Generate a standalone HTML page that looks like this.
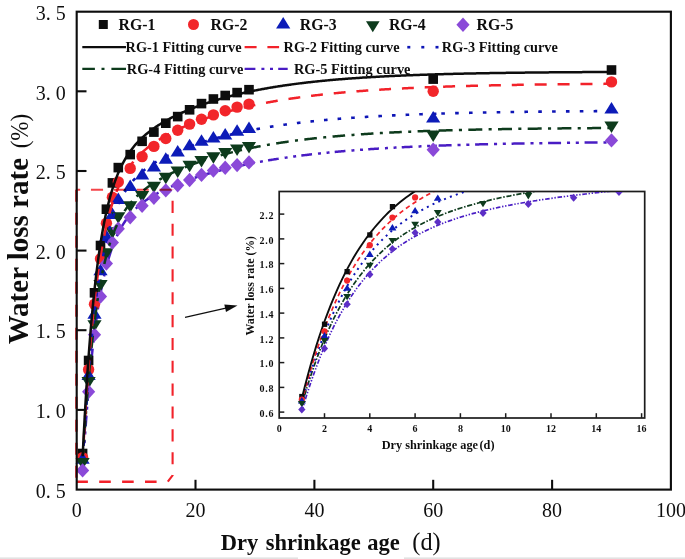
<!DOCTYPE html>
<html><head><meta charset="utf-8"><title>chart</title>
<style>
html,body{margin:0;padding:0;background:#fff;}
body{width:685px;height:559px;overflow:hidden;position:relative;font-family:"Liberation Serif",serif;}
svg{position:absolute;left:0;top:0;display:block}
text{font-family:"Liberation Serif",serif;fill:#111}
.b{font-weight:bold}
</style></head><body>
<svg width="685" height="559" viewBox="0 0 685 559">
<defs>
<clipPath id="ci"><rect x="280" y="192" width="364" height="225.5"/></clipPath>
<filter id="bl" x="-2%" y="-2%" width="104%" height="104%"><feGaussianBlur stdDeviation="0.5"/></filter>
</defs>
<g filter="url(#bl)">
<rect x="-5" y="-5" width="695" height="569" fill="#fff"/>

<rect x="-5" y="557.4" width="303" height="3" fill="#e2e2e2"/><rect x="404" y="557.4" width="290" height="3" fill="#e2e2e2"/>
<path d="M83.36,460.60 L84.30,445.92 L85.24,432.11 L86.18,419.12 L87.12,406.90 L88.07,395.40 L89.01,384.58 L89.95,374.39 L90.89,364.80 L91.84,355.77 L92.78,347.25 L93.72,339.23 L94.66,331.67 L95.61,324.55 L96.55,317.83 L97.49,311.49 L98.43,305.50 L99.38,299.85 L100.32,294.52 L101.26,289.48 L102.20,284.72 L103.15,280.22 L104.09,275.96 L105.03,271.94 L105.97,268.12 L106.92,264.51 L107.86,261.09 L108.80,257.85 L109.74,254.78 L110.69,251.86 L111.63,249.09 L112.57,246.46 L113.51,243.96 L114.46,241.58 L115.40,239.32 L116.34,237.16 L117.28,235.11 L118.23,233.15 L119.17,231.29 L120.11,229.50 L121.05,227.80 L122.00,226.17 L122.94,224.61 L123.88,223.12 L124.82,221.69 L125.77,220.32 L126.71,219.01 L127.65,217.74 L128.59,216.53 L129.54,215.36 L130.48,214.24 L131.42,213.16 L132.36,212.11 L133.31,211.11 L134.25,210.13 L135.19,209.19 L136.13,208.28 L137.08,207.40 L138.02,206.55 L138.96,205.73 L139.90,204.93 L140.85,204.15 L141.79,203.39 L142.73,202.66 L143.67,201.94 L144.62,201.25 L145.56,200.57 L146.50,199.91 L147.44,199.26 L148.39,198.63 L149.33,198.02 L150.27,197.41 L151.21,196.83 L152.16,196.25 L153.10,195.69 L154.04,195.14 L154.98,194.59 L155.93,194.06 L156.87,193.54 L157.81,193.03 L158.75,192.53 L159.70,192.04 L160.64,191.55 L161.58,191.08 L162.52,190.61 L163.47,190.15 L164.41,189.69 L165.35,189.24 L166.29,188.80 L167.24,188.37 L168.18,187.94 L169.12,187.52 L170.06,187.10 L171.01,186.69 L171.95,186.29 L172.89,185.88 L173.83,185.49 L174.78,185.10 L175.72,184.71 L176.66,184.33 L177.60,183.96 L178.55,183.59 L179.49,183.22 L180.43,182.85 L181.37,182.49 L182.32,182.14 L183.26,181.79 L184.20,181.44 L185.14,181.10 L186.09,180.76 L187.03,180.42 L187.97,180.08 L188.91,179.75 L189.86,179.43 L190.80,179.10 L191.74,178.78 L192.68,178.47 L193.63,178.15 L194.57,177.84 L195.51,177.53 L196.45,177.23 L197.40,176.93 L198.34,176.63 L199.28,176.33 L200.22,176.04 L201.17,175.75 L202.11,175.46 L203.05,175.17 L203.99,174.89 L204.94,174.61 L205.88,174.33 L206.82,174.05 L207.76,173.78 L208.70,173.51 L209.65,173.24 L210.59,172.97 L211.53,172.71 L212.47,172.45 L213.42,172.19 L214.36,171.93 L215.30,171.68 L216.24,171.43 L217.19,171.18 L218.13,170.93 L219.07,170.68 L220.01,170.44 L220.96,170.20 L221.90,169.96 L222.84,169.72 L223.78,169.48 L224.73,169.25 L225.67,169.02 L226.61,168.79 L227.55,168.56 L228.50,168.34 L229.44,168.11 L230.38,167.89 L231.32,167.67 L232.27,167.45 L233.21,167.24 L234.15,167.02 L235.09,166.81 L236.04,166.60 L236.98,166.39 L237.92,166.18 L238.86,165.98 L239.81,165.77 L240.75,165.57 L241.69,165.37 L242.63,165.17 L243.58,164.97 L244.52,164.78 L245.46,164.58 L246.40,164.39 L247.35,164.20 L248.29,164.01 L249.23,163.83 L250.17,163.64 L251.12,163.46 L252.06,163.27 L253.00,163.09 L253.94,162.91 L254.89,162.73 L255.83,162.56 L256.77,162.38 L257.71,162.21 L258.66,162.04 L259.60,161.86 L260.54,161.70 L261.48,161.53 L262.43,161.36 L263.37,161.20 L264.31,161.03 L265.25,160.87 L266.20,160.71 L267.14,160.55 L268.08,160.39 L269.02,160.23 L269.97,160.08 L270.91,159.92 L271.85,159.77 L272.79,159.62 L273.74,159.47 L274.68,159.32 L275.62,159.17 L276.56,159.02 L277.51,158.87 L278.45,158.73 L279.39,158.59 L280.33,158.44 L281.28,158.30 L282.22,158.16 L283.16,158.02 L284.10,157.89 L285.05,157.75 L285.99,157.62 L286.93,157.48 L287.87,157.35 L288.82,157.22 L289.76,157.09 L290.70,156.96 L291.64,156.83 L292.59,156.70 L293.53,156.57 L294.47,156.45 L295.41,156.32 L296.36,156.20 L297.30,156.08 L298.24,155.96 L299.18,155.84 L300.13,155.72 L301.07,155.60 L302.01,155.48 L302.95,155.36 L303.90,155.25 L304.84,155.13 L305.78,155.02 L306.72,154.91 L307.67,154.80 L308.61,154.69 L309.55,154.58 L310.49,154.47 L311.44,154.36 L312.38,154.25 L313.32,154.15 L314.26,154.04 L315.21,153.94 L316.15,153.83 L317.09,153.73 L318.03,153.63 L318.98,153.53 L319.92,153.43 L320.86,153.33 L321.80,153.23 L322.75,153.13 L323.69,153.03 L324.63,152.94 L325.57,152.84 L326.51,152.75 L327.46,152.66 L328.40,152.56 L329.34,152.47 L330.28,152.38 L331.23,152.29 L332.17,152.20 L333.11,152.11 L334.05,152.02 L335.00,151.93 L335.94,151.85 L336.88,151.76 L337.82,151.67 L338.77,151.59 L339.71,151.51 L340.65,151.42 L341.59,151.34 L342.54,151.26 L343.48,151.18 L344.42,151.10 L345.36,151.02 L346.31,150.94 L347.25,150.86 L348.19,150.78 L349.13,150.70 L350.08,150.63 L351.02,150.55 L351.96,150.47 L352.90,150.40 L353.85,150.33 L354.79,150.25 L355.73,150.18 L356.67,150.11 L357.62,150.03 L358.56,149.96 L359.50,149.89 L360.44,149.82 L361.39,149.75 L362.33,149.68 L363.27,149.62 L364.21,149.55 L365.16,149.48 L366.10,149.42 L367.04,149.35 L367.98,149.28 L368.93,149.22 L369.87,149.15 L370.81,149.09 L371.75,149.03 L372.70,148.96 L373.64,148.90 L374.58,148.84 L375.52,148.78 L376.47,148.72 L377.41,148.66 L378.35,148.60 L379.29,148.54 L380.24,148.48 L381.18,148.42 L382.12,148.36 L383.06,148.31 L384.01,148.25 L384.95,148.19 L385.89,148.14 L386.83,148.08 L387.78,148.03 L388.72,147.97 L389.66,147.92 L390.60,147.87 L391.55,147.81 L392.49,147.76 L393.43,147.71 L394.37,147.66 L395.32,147.60 L396.26,147.55 L397.20,147.50 L398.14,147.45 L399.09,147.40 L400.03,147.35 L400.97,147.31 L401.91,147.26 L402.86,147.21 L403.80,147.16 L404.74,147.11 L405.68,147.07 L406.63,147.02 L407.57,146.97 L408.51,146.93 L409.45,146.88 L410.40,146.84 L411.34,146.79 L412.28,146.75 L413.22,146.71 L414.17,146.66 L415.11,146.62 L416.05,146.58 L416.99,146.53 L417.94,146.49 L418.88,146.45 L419.82,146.41 L420.76,146.37 L421.71,146.33 L422.65,146.29 L423.59,146.25 L424.53,146.21 L425.48,146.17 L426.42,146.13 L427.36,146.09 L428.30,146.05 L429.25,146.01 L430.19,145.98 L431.13,145.94 L432.07,145.90 L433.02,145.86 L433.96,145.83 L434.90,145.79 L435.84,145.76 L436.79,145.72" fill="none" stroke="#4a1fc4" stroke-width="2.5" stroke-dasharray="10.80 6.00 3.00 5.60 3.00 5.20" stroke-dashoffset="32.84"/>
<path d="M436.79,145.72 L437.68,145.69 L438.58,145.65 L439.47,145.62 L440.37,145.59 L441.26,145.55 L442.16,145.52 L443.06,145.49 L443.95,145.46 L444.85,145.43 L445.74,145.40 L446.64,145.36 L447.54,145.33 L448.43,145.30 L449.33,145.27 L450.22,145.24 L451.12,145.21 L452.02,145.18 L452.91,145.15 L453.81,145.13 L454.70,145.10 L455.60,145.07 L456.49,145.04 L457.39,145.01 L458.29,144.98 L459.18,144.96 L460.08,144.93 L460.97,144.90 L461.87,144.87 L462.77,144.85 L463.66,144.82 L464.56,144.79 L465.45,144.77 L466.35,144.74 L467.24,144.72 L468.14,144.69 L469.04,144.66 L469.93,144.64 L470.83,144.61 L471.72,144.59 L472.62,144.56 L473.52,144.54 L474.41,144.52 L475.31,144.49 L476.20,144.47 L477.10,144.44 L478.00,144.42 L478.89,144.40 L479.79,144.37 L480.68,144.35 L481.58,144.33 L482.47,144.31 L483.37,144.28 L484.27,144.26 L485.16,144.24 L486.06,144.22 L486.95,144.20 L487.85,144.17 L488.75,144.15 L489.64,144.13 L490.54,144.11 L491.43,144.09 L492.33,144.07 L493.23,144.05 L494.12,144.03 L495.02,144.01 L495.91,143.99 L496.81,143.97 L497.70,143.95 L498.60,143.93 L499.50,143.91 L500.39,143.89 L501.29,143.87 L502.18,143.85 L503.08,143.83 L503.98,143.81 L504.87,143.80 L505.77,143.78 L506.66,143.76 L507.56,143.74 L508.45,143.72 L509.35,143.71 L510.25,143.69 L511.14,143.67 L512.04,143.65 L512.93,143.64 L513.83,143.62 L514.73,143.60 L515.62,143.58 L516.52,143.57 L517.41,143.55 L518.31,143.53 L519.21,143.52 L520.10,143.50 L521.00,143.49 L521.89,143.47 L522.79,143.45 L523.68,143.44 L524.58,143.42 L525.48,143.41 L526.37,143.39 L527.27,143.38 L528.16,143.36 L529.06,143.35 L529.96,143.33 L530.85,143.32 L531.75,143.30 L532.64,143.29 L533.54,143.27 L534.44,143.26 L535.33,143.25 L536.23,143.23 L537.12,143.22 L538.02,143.20 L538.91,143.19 L539.81,143.18 L540.71,143.16 L541.60,143.15 L542.50,143.14 L543.39,143.12 L544.29,143.11 L545.19,143.10 L546.08,143.08 L546.98,143.07 L547.87,143.06 L548.77,143.05 L549.66,143.03 L550.56,143.02 L551.46,143.01 L552.35,143.00 L553.25,142.99 L554.14,142.97 L555.04,142.96 L555.94,142.95 L556.83,142.94 L557.73,142.93 L558.62,142.91 L559.52,142.90 L560.42,142.89 L561.31,142.88 L562.21,142.87 L563.10,142.86 L564.00,142.85 L564.89,142.84 L565.79,142.83 L566.69,142.81 L567.58,142.80 L568.48,142.79 L569.37,142.78 L570.27,142.77 L571.17,142.76 L572.06,142.75 L572.96,142.74 L573.85,142.73 L574.75,142.72 L575.65,142.71 L576.54,142.70 L577.44,142.69 L578.33,142.68 L579.23,142.67 L580.12,142.66 L581.02,142.65 L581.92,142.65 L582.81,142.64 L583.71,142.63 L584.60,142.62 L585.50,142.61 L586.40,142.60 L587.29,142.59 L588.19,142.58 L589.08,142.57 L589.98,142.56 L590.87,142.56 L591.77,142.55 L592.67,142.54 L593.56,142.53 L594.46,142.52 L595.35,142.51 L596.25,142.50 L597.15,142.50 L598.04,142.49 L598.94,142.48 L599.83,142.47 L600.73,142.46 L601.63,142.46 L602.52,142.45 L603.42,142.44 L604.31,142.43 L605.21,142.43 L606.10,142.42 L607.00,142.41 L607.90,142.40 L608.79,142.40 L609.69,142.39 L610.58,142.38 L611.48,142.37" fill="none" stroke="#4a1fc4" stroke-width="2.5" stroke-dasharray="13.00 5.90 3.10 5.70 3.10 5.70" stroke-dashoffset="34.68"/>
<rect x="77.8" y="448.7" width="9.6" height="9.6" fill="#0d0d0d"/>
<rect x="83.8" y="355.7" width="9.6" height="9.6" fill="#0d0d0d"/>
<rect x="89.7" y="288.0" width="9.6" height="9.6" fill="#0d0d0d"/>
<rect x="95.7" y="240.7" width="9.6" height="9.6" fill="#0d0d0d"/>
<rect x="101.6" y="204.4" width="9.6" height="9.6" fill="#0d0d0d"/>
<rect x="107.6" y="178.1" width="9.6" height="9.6" fill="#0d0d0d"/>
<rect x="113.5" y="162.8" width="9.6" height="9.6" fill="#0d0d0d"/>
<rect x="125.4" y="149.8" width="9.6" height="9.6" fill="#0d0d0d"/>
<rect x="137.3" y="136.5" width="9.6" height="9.6" fill="#0d0d0d"/>
<rect x="149.1" y="127.3" width="9.6" height="9.6" fill="#0d0d0d"/>
<rect x="161.0" y="118.4" width="9.6" height="9.6" fill="#0d0d0d"/>
<rect x="172.9" y="111.8" width="9.6" height="9.6" fill="#0d0d0d"/>
<rect x="184.8" y="105.0" width="9.6" height="9.6" fill="#0d0d0d"/>
<rect x="196.7" y="98.8" width="9.6" height="9.6" fill="#0d0d0d"/>
<rect x="208.6" y="94.2" width="9.6" height="9.6" fill="#0d0d0d"/>
<rect x="220.4" y="90.7" width="9.6" height="9.6" fill="#0d0d0d"/>
<rect x="232.3" y="87.8" width="9.6" height="9.6" fill="#0d0d0d"/>
<rect x="244.2" y="84.9" width="9.6" height="9.6" fill="#0d0d0d"/>
<rect x="428.4" y="74.3" width="9.6" height="9.6" fill="#0d0d0d"/>
<rect x="606.7" y="65.2" width="9.6" height="9.6" fill="#0d0d0d"/>
<circle cx="82.6" cy="457.6" r="5.7" fill="#f2272c"/>
<circle cx="88.6" cy="369.6" r="5.7" fill="#f2272c"/>
<circle cx="94.5" cy="304.3" r="5.7" fill="#f2272c"/>
<circle cx="100.5" cy="258.7" r="5.7" fill="#f2272c"/>
<circle cx="106.4" cy="223.2" r="5.7" fill="#f2272c"/>
<circle cx="112.4" cy="197.2" r="5.7" fill="#f2272c"/>
<circle cx="118.3" cy="181.9" r="5.7" fill="#f2272c"/>
<circle cx="130.2" cy="168.4" r="5.7" fill="#f2272c"/>
<circle cx="142.1" cy="156.6" r="5.7" fill="#f2272c"/>
<circle cx="153.9" cy="146.4" r="5.7" fill="#f2272c"/>
<circle cx="165.8" cy="138.5" r="5.7" fill="#f2272c"/>
<circle cx="177.7" cy="130.3" r="5.7" fill="#f2272c"/>
<circle cx="189.6" cy="124.1" r="5.7" fill="#f2272c"/>
<circle cx="201.5" cy="119.2" r="5.7" fill="#f2272c"/>
<circle cx="213.4" cy="114.9" r="5.7" fill="#f2272c"/>
<circle cx="225.2" cy="110.8" r="5.7" fill="#f2272c"/>
<circle cx="237.1" cy="107.1" r="5.7" fill="#f2272c"/>
<circle cx="249.0" cy="104.1" r="5.7" fill="#f2272c"/>
<circle cx="433.2" cy="91.3" r="5.7" fill="#f2272c"/>
<circle cx="611.5" cy="81.9" r="5.7" fill="#f2272c"/>
<path d="M82.6,452.2 L89.7,463.7 L75.5,463.7 Z" fill="#0b1cb8"/>
<path d="M88.6,368.6 L95.7,380.1 L81.5,380.1 Z" fill="#0b1cb8"/>
<path d="M94.5,307.3 L101.6,318.8 L87.4,318.8 Z" fill="#0b1cb8"/>
<path d="M100.5,263.7 L107.6,275.2 L93.4,275.2 Z" fill="#0b1cb8"/>
<path d="M106.4,229.6 L113.5,241.1 L99.3,241.1 Z" fill="#0b1cb8"/>
<path d="M112.4,207.4 L119.5,218.9 L105.3,218.9 Z" fill="#0b1cb8"/>
<path d="M118.3,192.5 L125.4,204.0 L111.2,204.0 Z" fill="#0b1cb8"/>
<path d="M130.2,179.6 L137.3,191.1 L123.1,191.1 Z" fill="#0b1cb8"/>
<path d="M142.1,167.9 L149.2,179.4 L135.0,179.4 Z" fill="#0b1cb8"/>
<path d="M153.9,160.0 L161.0,171.5 L146.8,171.5 Z" fill="#0b1cb8"/>
<path d="M165.8,152.3 L172.9,163.8 L158.7,163.8 Z" fill="#0b1cb8"/>
<path d="M177.7,145.0 L184.8,156.5 L170.6,156.5 Z" fill="#0b1cb8"/>
<path d="M189.6,138.8 L196.7,150.3 L182.5,150.3 Z" fill="#0b1cb8"/>
<path d="M201.5,134.3 L208.6,145.8 L194.4,145.8 Z" fill="#0b1cb8"/>
<path d="M213.4,131.0 L220.5,142.5 L206.3,142.5 Z" fill="#0b1cb8"/>
<path d="M225.2,128.1 L232.3,139.6 L218.2,139.6 Z" fill="#0b1cb8"/>
<path d="M237.1,124.3 L244.2,135.8 L230.0,135.8 Z" fill="#0b1cb8"/>
<path d="M249.0,121.6 L256.1,133.1 L241.9,133.1 Z" fill="#0b1cb8"/>
<path d="M433.2,111.1 L440.3,122.6 L426.1,122.6 Z" fill="#0b1cb8"/>
<path d="M611.5,102.0 L618.6,113.5 L604.4,113.5 Z" fill="#0b1cb8"/>
<path d="M75.5,457.9 L89.7,457.9 L82.6,469.4 Z" fill="#0d3a1d"/>
<path d="M81.5,377.0 L95.7,377.0 L88.6,388.5 Z" fill="#0d3a1d"/>
<path d="M87.4,320.2 L101.6,320.2 L94.5,331.7 Z" fill="#0d3a1d"/>
<path d="M93.4,280.0 L107.6,280.0 L100.5,291.5 Z" fill="#0d3a1d"/>
<path d="M99.3,248.2 L113.5,248.2 L106.4,259.7 Z" fill="#0d3a1d"/>
<path d="M105.3,227.3 L119.5,227.3 L112.4,238.8 Z" fill="#0d3a1d"/>
<path d="M111.2,212.3 L125.4,212.3 L118.3,223.8 Z" fill="#0d3a1d"/>
<path d="M123.1,201.3 L137.3,201.3 L130.2,212.8 Z" fill="#0d3a1d"/>
<path d="M135.0,191.1 L149.2,191.1 L142.1,202.6 Z" fill="#0d3a1d"/>
<path d="M146.8,181.7 L161.0,181.7 L153.9,193.2 Z" fill="#0d3a1d"/>
<path d="M158.7,172.8 L172.9,172.8 L165.8,184.3 Z" fill="#0d3a1d"/>
<path d="M170.6,166.6 L184.8,166.6 L177.7,178.1 Z" fill="#0d3a1d"/>
<path d="M182.5,160.7 L196.7,160.7 L189.6,172.2 Z" fill="#0d3a1d"/>
<path d="M194.4,156.1 L208.6,156.1 L201.5,167.6 Z" fill="#0d3a1d"/>
<path d="M206.3,152.3 L220.5,152.3 L213.4,163.8 Z" fill="#0d3a1d"/>
<path d="M218.2,148.1 L232.3,148.1 L225.2,159.6 Z" fill="#0d3a1d"/>
<path d="M230.0,144.6 L244.2,144.6 L237.1,156.1 Z" fill="#0d3a1d"/>
<path d="M241.9,141.9 L256.1,141.9 L249.0,153.4 Z" fill="#0d3a1d"/>
<path d="M426.1,130.5 L440.3,130.5 L433.2,142.0 Z" fill="#0d3a1d"/>
<path d="M604.4,121.5 L618.6,121.5 L611.5,133.0 Z" fill="#0d3a1d"/>
<path d="M82.6,463.2 L89.2,470.4 L82.6,477.6 L76.0,470.4 Z" fill="#8a4ad8"/>
<path d="M88.6,384.5 L95.2,391.7 L88.6,398.9 L82.0,391.7 Z" fill="#8a4ad8"/>
<path d="M94.5,327.6 L101.1,334.8 L94.5,342.0 L87.9,334.8 Z" fill="#8a4ad8"/>
<path d="M100.5,289.3 L107.1,296.5 L100.5,303.7 L93.9,296.5 Z" fill="#8a4ad8"/>
<path d="M106.4,256.3 L113.0,263.5 L106.4,270.7 L99.8,263.5 Z" fill="#8a4ad8"/>
<path d="M112.4,235.4 L119.0,242.6 L112.4,249.8 L105.8,242.6 Z" fill="#8a4ad8"/>
<path d="M118.3,221.6 L124.9,228.8 L118.3,236.0 L111.7,228.8 Z" fill="#8a4ad8"/>
<path d="M130.2,210.1 L136.8,217.3 L130.2,224.5 L123.6,217.3 Z" fill="#8a4ad8"/>
<path d="M142.1,198.5 L148.7,205.7 L142.1,212.9 L135.5,205.7 Z" fill="#8a4ad8"/>
<path d="M153.9,190.5 L160.5,197.7 L153.9,204.9 L147.3,197.7 Z" fill="#8a4ad8"/>
<path d="M165.8,183.2 L172.4,190.4 L165.8,197.6 L159.2,190.4 Z" fill="#8a4ad8"/>
<path d="M177.7,178.1 L184.3,185.3 L177.7,192.5 L171.1,185.3 Z" fill="#8a4ad8"/>
<path d="M189.6,172.8 L196.2,180.0 L189.6,187.2 L183.0,180.0 Z" fill="#8a4ad8"/>
<path d="M201.5,167.7 L208.1,174.9 L201.5,182.1 L194.9,174.9 Z" fill="#8a4ad8"/>
<path d="M213.4,163.3 L220.0,170.5 L213.4,177.7 L206.8,170.5 Z" fill="#8a4ad8"/>
<path d="M225.2,160.6 L231.8,167.8 L225.2,175.0 L218.7,167.8 Z" fill="#8a4ad8"/>
<path d="M237.1,157.9 L243.7,165.1 L237.1,172.3 L230.5,165.1 Z" fill="#8a4ad8"/>
<path d="M249.0,155.2 L255.6,162.4 L249.0,169.6 L242.4,162.4 Z" fill="#8a4ad8"/>
<path d="M433.2,142.6 L439.8,149.8 L433.2,157.0 L426.6,149.8 Z" fill="#8a4ad8"/>
<path d="M611.5,133.2 L618.1,140.4 L611.5,147.6 L604.9,140.4 Z" fill="#8a4ad8"/>
<path d="M83.24,454.27 L84.18,439.04 L85.12,424.75 L86.06,411.34 L87.00,398.75 L87.94,386.92 L88.88,375.81 L89.82,365.38 L90.76,355.57 L91.70,346.35 L92.64,337.68 L93.58,329.52 L94.52,321.85 L95.46,314.62 L96.40,307.82 L97.34,301.41 L98.28,295.37 L99.22,289.67 L100.16,284.30 L101.10,279.23 L102.04,274.44 L102.98,269.92 L103.92,265.65 L104.86,261.60 L105.80,257.78 L106.74,254.16 L107.68,250.73 L108.62,247.48 L109.56,244.40 L110.50,241.47 L111.44,238.70 L112.39,236.06 L113.33,233.54 L114.27,231.15 L115.21,228.88 L116.15,226.71 L117.09,224.64 L118.03,222.67 L118.97,220.78 L119.91,218.98 L120.85,217.25 L121.79,215.60 L122.73,214.01 L123.67,212.49 L124.61,211.04 L125.55,209.63 L126.49,208.29 L127.43,206.99 L128.37,205.74 L129.31,204.53 L130.25,203.37 L131.19,202.25 L132.13,201.16 L133.07,200.11 L134.01,199.10 L134.95,198.11 L135.89,197.16 L136.83,196.23 L137.77,195.33 L138.71,194.46 L139.65,193.61 L140.59,192.78 L141.53,191.97 L142.47,191.18 L143.41,190.42 L144.36,189.67 L145.30,188.94 L146.24,188.22 L147.18,187.53 L148.12,186.84 L149.06,186.17 L150.00,185.52 L150.94,184.88 L151.88,184.25 L152.82,183.63 L153.76,183.02 L154.70,182.43 L155.64,181.84 L156.58,181.27 L157.52,180.71 L158.46,180.15 L159.40,179.60 L160.34,179.07 L161.28,178.54 L162.22,178.02 L163.16,177.50 L164.10,177.00 L165.04,176.50 L165.98,176.01 L166.92,175.52 L167.86,175.04 L168.80,174.57 L169.74,174.11 L170.68,173.65 L171.62,173.19 L172.56,172.74 L173.50,172.30 L174.44,171.87 L175.38,171.43 L176.32,171.01 L177.27,170.59 L178.21,170.17 L179.15,169.76 L180.09,169.35 L181.03,168.95 L181.97,168.55 L182.91,168.16 L183.85,167.77 L184.79,167.38 L185.73,167.00 L186.67,166.62 L187.61,166.25 L188.55,165.88 L189.49,165.52 L190.43,165.16 L191.37,164.80 L192.31,164.45 L193.25,164.10 L194.19,163.75 L195.13,163.41 L196.07,163.07 L197.01,162.73 L197.95,162.40 L198.89,162.07 L199.83,161.74 L200.77,161.42 L201.71,161.10 L202.65,160.78 L203.59,160.47 L204.53,160.16 L205.47,159.85 L206.41,159.55 L207.35,159.25 L208.29,158.95 L209.24,158.65 L210.18,158.36 L211.12,158.07 L212.06,157.79 L213.00,157.50 L213.94,157.22 L214.88,156.94 L215.82,156.66 L216.76,156.39 L217.70,156.12 L218.64,155.85 L219.58,155.59 L220.52,155.32 L221.46,155.06 L222.40,154.80 L223.34,154.55 L224.28,154.29 L225.22,154.04 L226.16,153.79 L227.10,153.55 L228.04,153.30 L228.98,153.06 L229.92,152.82 L230.86,152.59 L231.80,152.35 L232.74,152.12 L233.68,151.89 L234.62,151.66 L235.56,151.43 L236.50,151.21 L237.44,150.99 L238.38,150.77 L239.32,150.55 L240.26,150.33 L241.20,150.12 L242.15,149.91 L243.09,149.70 L244.03,149.49 L244.97,149.29 L245.91,149.08 L246.85,148.88 L247.79,148.68 L248.73,148.48 L249.67,148.29 L250.61,148.09 L251.55,147.90 L252.49,147.71 L253.43,147.52 L254.37,147.33 L255.31,147.15 L256.25,146.96 L257.19,146.78 L258.13,146.60 L259.07,146.42 L260.01,146.24 L260.95,146.07 L261.89,145.89 L262.83,145.72 L263.77,145.55 L264.71,145.38 L265.65,145.21 L266.59,145.05 L267.53,144.88 L268.47,144.72 L269.41,144.56 L270.35,144.40 L271.29,144.24 L272.23,144.09 L273.17,143.93 L274.12,143.78 L275.06,143.62 L276.00,143.47 L276.94,143.32 L277.88,143.18 L278.82,143.03 L279.76,142.88 L280.70,142.74 L281.64,142.60 L282.58,142.46 L283.52,142.32 L284.46,142.18 L285.40,142.04 L286.34,141.90 L287.28,141.77 L288.22,141.63 L289.16,141.50 L290.10,141.37 L291.04,141.24 L291.98,141.11 L292.92,140.98 L293.86,140.86 L294.80,140.73 L295.74,140.61 L296.68,140.49 L297.62,140.36 L298.56,140.24 L299.50,140.12 L300.44,140.01 L301.38,139.89 L302.32,139.77 L303.26,139.66 L304.20,139.54 L305.14,139.43 L306.08,139.32 L307.03,139.21 L307.97,139.10 L308.91,138.99 L309.85,138.88 L310.79,138.78 L311.73,138.67 L312.67,138.56 L313.61,138.46 L314.55,138.36 L315.49,138.26 L316.43,138.16 L317.37,138.06 L318.31,137.96 L319.25,137.86 L320.19,137.76 L321.13,137.66 L322.07,137.57 L323.01,137.48 L323.95,137.38 L324.89,137.29 L325.83,137.20 L326.77,137.11 L327.71,137.02 L328.65,136.93 L329.59,136.84 L330.53,136.75 L331.47,136.66 L332.41,136.58 L333.35,136.49 L334.29,136.41 L335.23,136.32 L336.17,136.24 L337.11,136.16 L338.05,136.08 L339.00,136.00 L339.94,135.92 L340.88,135.84 L341.82,135.76 L342.76,135.68 L343.70,135.61 L344.64,135.53 L345.58,135.45 L346.52,135.38 L347.46,135.31 L348.40,135.23 L349.34,135.16 L350.28,135.09 L351.22,135.02 L352.16,134.95 L353.10,134.88 L354.04,134.81 L354.98,134.74 L355.92,134.67 L356.86,134.60 L357.80,134.54 L358.74,134.47 L359.68,134.40 L360.62,134.34 L361.56,134.27 L362.50,134.21 L363.44,134.15 L364.38,134.08 L365.32,134.02 L366.26,133.96 L367.20,133.90 L368.14,133.84 L369.08,133.78 L370.02,133.72 L370.96,133.66 L371.91,133.60 L372.85,133.55 L373.79,133.49 L374.73,133.43 L375.67,133.38 L376.61,133.32 L377.55,133.27 L378.49,133.21 L379.43,133.16 L380.37,133.11 L381.31,133.05 L382.25,133.00 L383.19,132.95 L384.13,132.90 L385.07,132.85 L386.01,132.80 L386.95,132.75 L387.89,132.70 L388.83,132.65 L389.77,132.60 L390.71,132.55 L391.65,132.50 L392.59,132.46 L393.53,132.41 L394.47,132.36 L395.41,132.32 L396.35,132.27 L397.29,132.23 L398.23,132.18 L399.17,132.14 L400.11,132.09 L401.05,132.05 L401.99,132.01 L402.93,131.97 L403.88,131.92 L404.82,131.88 L405.76,131.84 L406.70,131.80 L407.64,131.76 L408.58,131.72 L409.52,131.68 L410.46,131.64 L411.40,131.60 L412.34,131.56 L413.28,131.52 L414.22,131.48 L415.16,131.45 L416.10,131.41 L417.04,131.37 L417.98,131.34 L418.92,131.30 L419.86,131.26 L420.80,131.23 L421.74,131.19 L422.68,131.16 L423.62,131.12 L424.56,131.09 L425.50,131.05 L426.44,131.02 L427.38,130.99 L428.32,130.95 L429.26,130.92 L430.20,130.89 L431.14,130.86 L432.08,130.82 L433.02,130.79 L433.96,130.76 L434.90,130.73 L435.84,130.70 L436.79,130.67" fill="none" stroke="#0e3a1c" stroke-width="2.5" stroke-dasharray="12.60 6.40 3.00 6.40" stroke-dashoffset="7.13"/>
<path d="M436.79,130.67 L437.68,130.64 L438.58,130.61 L439.47,130.58 L440.37,130.56 L441.26,130.53 L442.16,130.50 L443.06,130.47 L443.95,130.45 L444.85,130.42 L445.74,130.39 L446.64,130.37 L447.54,130.34 L448.43,130.32 L449.33,130.29 L450.22,130.27 L451.12,130.24 L452.02,130.22 L452.91,130.19 L453.81,130.17 L454.70,130.14 L455.60,130.12 L456.49,130.09 L457.39,130.07 L458.29,130.05 L459.18,130.02 L460.08,130.00 L460.97,129.98 L461.87,129.96 L462.77,129.93 L463.66,129.91 L464.56,129.89 L465.45,129.87 L466.35,129.85 L467.24,129.82 L468.14,129.80 L469.04,129.78 L469.93,129.76 L470.83,129.74 L471.72,129.72 L472.62,129.70 L473.52,129.68 L474.41,129.66 L475.31,129.64 L476.20,129.62 L477.10,129.60 L478.00,129.58 L478.89,129.56 L479.79,129.54 L480.68,129.53 L481.58,129.51 L482.47,129.49 L483.37,129.47 L484.27,129.45 L485.16,129.44 L486.06,129.42 L486.95,129.40 L487.85,129.38 L488.75,129.37 L489.64,129.35 L490.54,129.33 L491.43,129.31 L492.33,129.30 L493.23,129.28 L494.12,129.26 L495.02,129.25 L495.91,129.23 L496.81,129.22 L497.70,129.20 L498.60,129.19 L499.50,129.17 L500.39,129.15 L501.29,129.14 L502.18,129.12 L503.08,129.11 L503.98,129.09 L504.87,129.08 L505.77,129.07 L506.66,129.05 L507.56,129.04 L508.45,129.02 L509.35,129.01 L510.25,128.99 L511.14,128.98 L512.04,128.97 L512.93,128.95 L513.83,128.94 L514.73,128.93 L515.62,128.91 L516.52,128.90 L517.41,128.89 L518.31,128.87 L519.21,128.86 L520.10,128.85 L521.00,128.84 L521.89,128.82 L522.79,128.81 L523.68,128.80 L524.58,128.79 L525.48,128.78 L526.37,128.76 L527.27,128.75 L528.16,128.74 L529.06,128.73 L529.96,128.72 L530.85,128.71 L531.75,128.69 L532.64,128.68 L533.54,128.67 L534.44,128.66 L535.33,128.65 L536.23,128.64 L537.12,128.63 L538.02,128.62 L538.91,128.61 L539.81,128.60 L540.71,128.59 L541.60,128.58 L542.50,128.57 L543.39,128.56 L544.29,128.55 L545.19,128.54 L546.08,128.53 L546.98,128.52 L547.87,128.51 L548.77,128.50 L549.66,128.49 L550.56,128.48 L551.46,128.47 L552.35,128.46 L553.25,128.45 L554.14,128.44 L555.04,128.44 L555.94,128.43 L556.83,128.42 L557.73,128.41 L558.62,128.40 L559.52,128.39 L560.42,128.38 L561.31,128.38 L562.21,128.37 L563.10,128.36 L564.00,128.35 L564.89,128.34 L565.79,128.33 L566.69,128.33 L567.58,128.32 L568.48,128.31 L569.37,128.30 L570.27,128.30 L571.17,128.29 L572.06,128.28 L572.96,128.27 L573.85,128.27 L574.75,128.26 L575.65,128.25 L576.54,128.24 L577.44,128.24 L578.33,128.23 L579.23,128.22 L580.12,128.22 L581.02,128.21 L581.92,128.20 L582.81,128.20 L583.71,128.19 L584.60,128.18 L585.50,128.18 L586.40,128.17 L587.29,128.16 L588.19,128.16 L589.08,128.15 L589.98,128.14 L590.87,128.14 L591.77,128.13 L592.67,128.12 L593.56,128.12 L594.46,128.11 L595.35,128.11 L596.25,128.10 L597.15,128.10 L598.04,128.09 L598.94,128.08 L599.83,128.08 L600.73,128.07 L601.63,128.07 L602.52,128.06 L603.42,128.06 L604.31,128.05 L605.21,128.04 L606.10,128.04 L607.00,128.03 L607.90,128.03 L608.79,128.02 L609.69,128.02 L610.58,128.01 L611.48,128.01" fill="none" stroke="#0e3a1c" stroke-width="2.5" stroke-dasharray="14.00 6.30 3.10 6.30" stroke-dashoffset="27.88"/>
<path d="M83.24,451.20 L84.18,435.25 L85.12,420.25 L86.06,406.15 L87.00,392.88 L87.94,380.40 L88.88,368.66 L89.82,357.61 L90.76,347.20 L91.70,337.40 L92.64,328.17 L93.58,319.48 L94.52,311.28 L95.46,303.56 L96.40,296.28 L97.34,289.41 L98.28,282.92 L99.22,276.80 L100.16,271.03 L101.10,265.57 L102.04,260.41 L102.98,255.54 L103.92,250.93 L104.86,246.57 L105.80,242.44 L106.74,238.53 L107.68,234.83 L108.62,231.32 L109.56,227.99 L110.50,224.83 L111.44,221.84 L112.39,218.99 L113.33,216.28 L114.27,213.70 L115.21,211.25 L116.15,208.92 L117.09,206.70 L118.03,204.58 L118.97,202.55 L119.91,200.62 L120.85,198.78 L121.79,197.01 L122.73,195.33 L123.67,193.71 L124.61,192.16 L125.55,190.68 L126.49,189.25 L127.43,187.88 L128.37,186.57 L129.31,185.30 L130.25,184.08 L131.19,182.91 L132.13,181.78 L133.07,180.69 L134.01,179.63 L134.95,178.62 L135.89,177.63 L136.83,176.68 L137.77,175.75 L138.71,174.86 L139.65,173.99 L140.59,173.15 L141.53,172.33 L142.47,171.54 L143.41,170.76 L144.36,170.01 L145.30,169.27 L146.24,168.56 L147.18,167.86 L148.12,167.18 L149.06,166.52 L150.00,165.87 L150.94,165.23 L151.88,164.61 L152.82,164.00 L153.76,163.41 L154.70,162.82 L155.64,162.25 L156.58,161.69 L157.52,161.14 L158.46,160.60 L159.40,160.07 L160.34,159.55 L161.28,159.04 L162.22,158.53 L163.16,158.04 L164.10,157.55 L165.04,157.07 L165.98,156.60 L166.92,156.14 L167.86,155.68 L168.80,155.23 L169.74,154.78 L170.68,154.34 L171.62,153.91 L172.56,153.48 L173.50,153.06 L174.44,152.65 L175.38,152.24 L176.32,151.83 L177.27,151.43 L178.21,151.04 L179.15,150.65 L180.09,150.26 L181.03,149.88 L181.97,149.51 L182.91,149.14 L183.85,148.77 L184.79,148.41 L185.73,148.05 L186.67,147.69 L187.61,147.34 L188.55,146.99 L189.49,146.65 L190.43,146.31 L191.37,145.98 L192.31,145.64 L193.25,145.31 L194.19,144.99 L195.13,144.67 L196.07,144.35 L197.01,144.03 L197.95,143.72 L198.89,143.41 L199.83,143.10 L200.77,142.80 L201.71,142.50 L202.65,142.20 L203.59,141.91 L204.53,141.62 L205.47,141.33 L206.41,141.05 L207.35,140.76 L208.29,140.48 L209.24,140.21 L210.18,139.93 L211.12,139.66 L212.06,139.39 L213.00,139.12 L213.94,138.86 L214.88,138.60 L215.82,138.34 L216.76,138.08 L217.70,137.83 L218.64,137.58 L219.58,137.33 L220.52,137.08 L221.46,136.84 L222.40,136.59 L223.34,136.35 L224.28,136.12 L225.22,135.88 L226.16,135.65 L227.10,135.42 L228.04,135.19 L228.98,134.96 L229.92,134.74 L230.86,134.51 L231.80,134.29 L232.74,134.07 L233.68,133.86 L234.62,133.64 L235.56,133.43 L236.50,133.22 L237.44,133.01 L238.38,132.80 L239.32,132.60 L240.26,132.40 L241.20,132.20 L242.15,132.00 L243.09,131.80 L244.03,131.60 L244.97,131.41 L245.91,131.22 L246.85,131.03 L247.79,130.84 L248.73,130.65 L249.67,130.47 L250.61,130.29 L251.55,130.10 L252.49,129.92 L253.43,129.75 L254.37,129.57 L255.31,129.39 L256.25,129.22 L257.19,129.05 L258.13,128.88 L259.07,128.71 L260.01,128.54 L260.95,128.38 L261.89,128.21 L262.83,128.05 L263.77,127.89 L264.71,127.73 L265.65,127.57 L266.59,127.42 L267.53,127.26 L268.47,127.11 L269.41,126.96 L270.35,126.80 L271.29,126.66 L272.23,126.51 L273.17,126.36 L274.12,126.22 L275.06,126.07 L276.00,125.93 L276.94,125.79 L277.88,125.65 L278.82,125.51 L279.76,125.37 L280.70,125.23 L281.64,125.10 L282.58,124.96 L283.52,124.83 L284.46,124.70 L285.40,124.57 L286.34,124.44 L287.28,124.31 L288.22,124.19 L289.16,124.06 L290.10,123.94 L291.04,123.81 L291.98,123.69 L292.92,123.57 L293.86,123.45 L294.80,123.33 L295.74,123.21 L296.68,123.10 L297.62,122.98 L298.56,122.87 L299.50,122.75 L300.44,122.64 L301.38,122.53 L302.32,122.42 L303.26,122.31 L304.20,122.20 L305.14,122.10 L306.08,121.99 L307.03,121.88 L307.97,121.78 L308.91,121.68 L309.85,121.57 L310.79,121.47 L311.73,121.37 L312.67,121.27 L313.61,121.17 L314.55,121.08 L315.49,120.98 L316.43,120.88 L317.37,120.79 L318.31,120.69 L319.25,120.60 L320.19,120.51 L321.13,120.42 L322.07,120.32 L323.01,120.23 L323.95,120.14 L324.89,120.06 L325.83,119.97 L326.77,119.88 L327.71,119.80 L328.65,119.71 L329.59,119.63 L330.53,119.54 L331.47,119.46 L332.41,119.38 L333.35,119.30 L334.29,119.22 L335.23,119.14 L336.17,119.06 L337.11,118.98 L338.05,118.90 L339.00,118.82 L339.94,118.75 L340.88,118.67 L341.82,118.60 L342.76,118.52 L343.70,118.45 L344.64,118.38 L345.58,118.30 L346.52,118.23 L347.46,118.16 L348.40,118.09 L349.34,118.02 L350.28,117.95 L351.22,117.88 L352.16,117.82 L353.10,117.75 L354.04,117.68 L354.98,117.62 L355.92,117.55 L356.86,117.49 L357.80,117.42 L358.74,117.36 L359.68,117.30 L360.62,117.23 L361.56,117.17 L362.50,117.11 L363.44,117.05 L364.38,116.99 L365.32,116.93 L366.26,116.87 L367.20,116.81 L368.14,116.76 L369.08,116.70 L370.02,116.64 L370.96,116.58 L371.91,116.53 L372.85,116.47 L373.79,116.42 L374.73,116.36 L375.67,116.31 L376.61,116.26 L377.55,116.20 L378.49,116.15 L379.43,116.10 L380.37,116.05 L381.31,116.00 L382.25,115.95 L383.19,115.90 L384.13,115.85 L385.07,115.80 L386.01,115.75 L386.95,115.70 L387.89,115.65 L388.83,115.61 L389.77,115.56 L390.71,115.51 L391.65,115.47 L392.59,115.42 L393.53,115.38 L394.47,115.33 L395.41,115.29 L396.35,115.24 L397.29,115.20 L398.23,115.16 L399.17,115.11 L400.11,115.07 L401.05,115.03 L401.99,114.99 L402.93,114.95 L403.88,114.91 L404.82,114.87 L405.76,114.83 L406.70,114.79 L407.64,114.75 L408.58,114.71 L409.52,114.67 L410.46,114.63 L411.40,114.59 L412.34,114.56 L413.28,114.52 L414.22,114.48 L415.16,114.45 L416.10,114.41 L417.04,114.37 L417.98,114.34 L418.92,114.30 L419.86,114.27 L420.80,114.23 L421.74,114.20 L422.68,114.17 L423.62,114.13 L424.56,114.10 L425.50,114.07 L426.44,114.03 L427.38,114.00 L428.32,113.97 L429.26,113.94 L430.20,113.90 L431.14,113.87 L432.08,113.84 L433.02,113.81 L433.96,113.78 L434.90,113.75 L435.84,113.72 L436.79,113.69" fill="none" stroke="#1016b6" stroke-width="2.6" stroke-dasharray="3.60 10.03" stroke-dashoffset="8.27"/>
<path d="M436.79,113.69 L437.68,113.66 L438.58,113.64 L439.47,113.61 L440.37,113.58 L441.26,113.55 L442.16,113.53 L443.06,113.50 L443.95,113.47 L444.85,113.45 L445.74,113.42 L446.64,113.40 L447.54,113.37 L448.43,113.35 L449.33,113.32 L450.22,113.30 L451.12,113.27 L452.02,113.25 L452.91,113.22 L453.81,113.20 L454.70,113.18 L455.60,113.15 L456.49,113.13 L457.39,113.11 L458.29,113.08 L459.18,113.06 L460.08,113.04 L460.97,113.02 L461.87,113.00 L462.77,112.97 L463.66,112.95 L464.56,112.93 L465.45,112.91 L466.35,112.89 L467.24,112.87 L468.14,112.85 L469.04,112.83 L469.93,112.81 L470.83,112.79 L471.72,112.77 L472.62,112.75 L473.52,112.73 L474.41,112.71 L475.31,112.69 L476.20,112.67 L477.10,112.65 L478.00,112.63 L478.89,112.61 L479.79,112.59 L480.68,112.57 L481.58,112.56 L482.47,112.54 L483.37,112.52 L484.27,112.50 L485.16,112.49 L486.06,112.47 L486.95,112.45 L487.85,112.43 L488.75,112.42 L489.64,112.40 L490.54,112.38 L491.43,112.37 L492.33,112.35 L493.23,112.33 L494.12,112.32 L495.02,112.30 L495.91,112.29 L496.81,112.27 L497.70,112.26 L498.60,112.24 L499.50,112.22 L500.39,112.21 L501.29,112.19 L502.18,112.18 L503.08,112.17 L503.98,112.15 L504.87,112.14 L505.77,112.12 L506.66,112.11 L507.56,112.09 L508.45,112.08 L509.35,112.07 L510.25,112.05 L511.14,112.04 L512.04,112.02 L512.93,112.01 L513.83,112.00 L514.73,111.99 L515.62,111.97 L516.52,111.96 L517.41,111.95 L518.31,111.93 L519.21,111.92 L520.10,111.91 L521.00,111.90 L521.89,111.88 L522.79,111.87 L523.68,111.86 L524.58,111.85 L525.48,111.84 L526.37,111.82 L527.27,111.81 L528.16,111.80 L529.06,111.79 L529.96,111.78 L530.85,111.77 L531.75,111.76 L532.64,111.75 L533.54,111.73 L534.44,111.72 L535.33,111.71 L536.23,111.70 L537.12,111.69 L538.02,111.68 L538.91,111.67 L539.81,111.66 L540.71,111.65 L541.60,111.64 L542.50,111.63 L543.39,111.62 L544.29,111.61 L545.19,111.60 L546.08,111.59 L546.98,111.58 L547.87,111.57 L548.77,111.56 L549.66,111.55 L550.56,111.54 L551.46,111.54 L552.35,111.53 L553.25,111.52 L554.14,111.51 L555.04,111.50 L555.94,111.49 L556.83,111.48 L557.73,111.47 L558.62,111.46 L559.52,111.46 L560.42,111.45 L561.31,111.44 L562.21,111.43 L563.10,111.42 L564.00,111.41 L564.89,111.41 L565.79,111.40 L566.69,111.39 L567.58,111.38 L568.48,111.38 L569.37,111.37 L570.27,111.36 L571.17,111.35 L572.06,111.34 L572.96,111.34 L573.85,111.33 L574.75,111.32 L575.65,111.32 L576.54,111.31 L577.44,111.30 L578.33,111.29 L579.23,111.29 L580.12,111.28 L581.02,111.27 L581.92,111.27 L582.81,111.26 L583.71,111.25 L584.60,111.25 L585.50,111.24 L586.40,111.23 L587.29,111.23 L588.19,111.22 L589.08,111.21 L589.98,111.21 L590.87,111.20 L591.77,111.20 L592.67,111.19 L593.56,111.18 L594.46,111.18 L595.35,111.17 L596.25,111.17 L597.15,111.16 L598.04,111.15 L598.94,111.15 L599.83,111.14 L600.73,111.14 L601.63,111.13 L602.52,111.13 L603.42,111.12 L604.31,111.11 L605.21,111.11 L606.10,111.10 L607.00,111.10 L607.90,111.09 L608.79,111.09 L609.69,111.08 L610.58,111.08 L611.48,111.07" fill="none" stroke="#1016b6" stroke-width="2.6" stroke-dasharray="3.60 10.25" stroke-dashoffset="9.33"/>
<path d="M83.24,449.25 L84.18,432.41 L85.12,416.58 L86.06,401.68 L87.00,387.67 L87.94,374.49 L88.88,362.08 L89.82,350.39 L90.76,339.39 L91.70,329.02 L92.64,319.26 L93.58,310.06 L94.52,301.38 L95.46,293.20 L96.40,285.49 L97.34,278.21 L98.28,271.33 L99.22,264.84 L100.16,258.72 L101.10,252.92 L102.04,247.45 L102.98,242.27 L103.92,237.37 L104.86,232.73 L105.80,228.34 L106.74,224.18 L107.68,220.24 L108.62,216.49 L109.56,212.95 L110.50,209.57 L111.44,206.37 L112.39,203.33 L113.33,200.44 L114.27,197.68 L115.21,195.06 L116.15,192.56 L117.09,190.17 L118.03,187.90 L118.97,185.73 L119.91,183.65 L120.85,181.67 L121.79,179.77 L122.73,177.95 L123.67,176.21 L124.61,174.54 L125.55,172.94 L126.49,171.40 L127.43,169.92 L128.37,168.49 L129.31,167.12 L130.25,165.80 L131.19,164.53 L132.13,163.30 L133.07,162.11 L134.01,160.97 L134.95,159.86 L135.89,158.78 L136.83,157.74 L137.77,156.73 L138.71,155.76 L139.65,154.81 L140.59,153.88 L141.53,152.99 L142.47,152.12 L143.41,151.27 L144.36,150.44 L145.30,149.63 L146.24,148.85 L147.18,148.08 L148.12,147.33 L149.06,146.59 L150.00,145.88 L150.94,145.18 L151.88,144.49 L152.82,143.82 L153.76,143.16 L154.70,142.51 L155.64,141.88 L156.58,141.26 L157.52,140.65 L158.46,140.05 L159.40,139.46 L160.34,138.88 L161.28,138.31 L162.22,137.75 L163.16,137.20 L164.10,136.66 L165.04,136.12 L165.98,135.60 L166.92,135.08 L167.86,134.57 L168.80,134.07 L169.74,133.57 L170.68,133.08 L171.62,132.60 L172.56,132.12 L173.50,131.65 L174.44,131.19 L175.38,130.73 L176.32,130.27 L177.27,129.83 L178.21,129.38 L179.15,128.95 L180.09,128.52 L181.03,128.09 L181.97,127.67 L182.91,127.25 L183.85,126.84 L184.79,126.43 L185.73,126.03 L186.67,125.63 L187.61,125.24 L188.55,124.85 L189.49,124.46 L190.43,124.08 L191.37,123.70 L192.31,123.33 L193.25,122.96 L194.19,122.59 L195.13,122.23 L196.07,121.87 L197.01,121.51 L197.95,121.16 L198.89,120.81 L199.83,120.47 L200.77,120.13 L201.71,119.79 L202.65,119.46 L203.59,119.12 L204.53,118.80 L205.47,118.47 L206.41,118.15 L207.35,117.83 L208.29,117.51 L209.24,117.20 L210.18,116.89 L211.12,116.59 L212.06,116.28 L213.00,115.98 L213.94,115.68 L214.88,115.39 L215.82,115.09 L216.76,114.80 L217.70,114.52 L218.64,114.23 L219.58,113.95 L220.52,113.67 L221.46,113.39 L222.40,113.12 L223.34,112.85 L224.28,112.58 L225.22,112.31 L226.16,112.05 L227.10,111.79 L228.04,111.53 L228.98,111.27 L229.92,111.02 L230.86,110.76 L231.80,110.51 L232.74,110.27 L233.68,110.02 L234.62,109.78 L235.56,109.54 L236.50,109.30 L237.44,109.06 L238.38,108.83 L239.32,108.60 L240.26,108.37 L241.20,108.14 L242.15,107.91 L243.09,107.69 L244.03,107.47 L244.97,107.25 L245.91,107.03 L246.85,106.81 L247.79,106.60 L248.73,106.39 L249.67,106.18 L250.61,105.97 L251.55,105.76 L252.49,105.56 L253.43,105.35 L254.37,105.15 L255.31,104.96 L256.25,104.76 L257.19,104.56 L258.13,104.37 L259.07,104.18 L260.01,103.99 L260.95,103.80 L261.89,103.61 L262.83,103.43 L263.77,103.24 L264.71,103.06 L265.65,102.88 L266.59,102.70 L267.53,102.53 L268.47,102.35 L269.41,102.18 L270.35,102.01 L271.29,101.84 L272.23,101.67 L273.17,101.50 L274.12,101.33 L275.06,101.17 L276.00,101.01 L276.94,100.85 L277.88,100.69 L278.82,100.53 L279.76,100.37 L280.70,100.21 L281.64,100.06 L282.58,99.91 L283.52,99.76 L284.46,99.61 L285.40,99.46 L286.34,99.31 L287.28,99.16 L288.22,99.02 L289.16,98.88 L290.10,98.73 L291.04,98.59 L291.98,98.45 L292.92,98.31 L293.86,98.18 L294.80,98.04 L295.74,97.91 L296.68,97.77 L297.62,97.64 L298.56,97.51 L299.50,97.38 L300.44,97.25 L301.38,97.12 L302.32,97.00 L303.26,96.87 L304.20,96.75 L305.14,96.63 L306.08,96.50 L307.03,96.38 L307.97,96.26 L308.91,96.14 L309.85,96.03 L310.79,95.91 L311.73,95.80 L312.67,95.68 L313.61,95.57 L314.55,95.46 L315.49,95.34 L316.43,95.23 L317.37,95.12 L318.31,95.02 L319.25,94.91 L320.19,94.80 L321.13,94.70 L322.07,94.59 L323.01,94.49 L323.95,94.39 L324.89,94.28 L325.83,94.18 L326.77,94.08 L327.71,93.99 L328.65,93.89 L329.59,93.79 L330.53,93.69 L331.47,93.60 L332.41,93.50 L333.35,93.41 L334.29,93.32 L335.23,93.23 L336.17,93.13 L337.11,93.04 L338.05,92.95 L339.00,92.87 L339.94,92.78 L340.88,92.69 L341.82,92.60 L342.76,92.52 L343.70,92.43 L344.64,92.35 L345.58,92.27 L346.52,92.18 L347.46,92.10 L348.40,92.02 L349.34,91.94 L350.28,91.86 L351.22,91.78 L352.16,91.70 L353.10,91.63 L354.04,91.55 L354.98,91.47 L355.92,91.40 L356.86,91.32 L357.80,91.25 L358.74,91.18 L359.68,91.10 L360.62,91.03 L361.56,90.96 L362.50,90.89 L363.44,90.82 L364.38,90.75 L365.32,90.68 L366.26,90.61 L367.20,90.55 L368.14,90.48 L369.08,90.41 L370.02,90.35 L370.96,90.28 L371.91,90.22 L372.85,90.15 L373.79,90.09 L374.73,90.03 L375.67,89.96 L376.61,89.90 L377.55,89.84 L378.49,89.78 L379.43,89.72 L380.37,89.66 L381.31,89.60 L382.25,89.54 L383.19,89.48 L384.13,89.43 L385.07,89.37 L386.01,89.31 L386.95,89.26 L387.89,89.20 L388.83,89.15 L389.77,89.09 L390.71,89.04 L391.65,88.99 L392.59,88.93 L393.53,88.88 L394.47,88.83 L395.41,88.78 L396.35,88.73 L397.29,88.68 L398.23,88.63 L399.17,88.58 L400.11,88.53 L401.05,88.48 L401.99,88.43 L402.93,88.38 L403.88,88.33 L404.82,88.29 L405.76,88.24 L406.70,88.19 L407.64,88.15 L408.58,88.10 L409.52,88.06 L410.46,88.01 L411.40,87.97 L412.34,87.93 L413.28,87.88 L414.22,87.84 L415.16,87.80 L416.10,87.75 L417.04,87.71 L417.98,87.67 L418.92,87.63 L419.86,87.59 L420.80,87.55 L421.74,87.51 L422.68,87.47 L423.62,87.43 L424.56,87.39 L425.50,87.35 L426.44,87.31 L427.38,87.28 L428.32,87.24 L429.26,87.20 L430.20,87.17 L431.14,87.13 L432.08,87.09 L433.02,87.06 L433.96,87.02 L434.90,86.99 L435.84,86.95 L436.79,86.92" fill="none" stroke="#f2232a" stroke-width="2.5" stroke-dasharray="11.90 10.90" stroke-dashoffset="13.28"/>
<path d="M436.79,86.92 L437.68,86.88 L438.58,86.85 L439.47,86.82 L440.37,86.79 L441.26,86.76 L442.16,86.72 L443.06,86.69 L443.95,86.66 L444.85,86.63 L445.74,86.60 L446.64,86.57 L447.54,86.54 L448.43,86.51 L449.33,86.48 L450.22,86.46 L451.12,86.43 L452.02,86.40 L452.91,86.37 L453.81,86.34 L454.70,86.31 L455.60,86.29 L456.49,86.26 L457.39,86.23 L458.29,86.21 L459.18,86.18 L460.08,86.15 L460.97,86.13 L461.87,86.10 L462.77,86.08 L463.66,86.05 L464.56,86.02 L465.45,86.00 L466.35,85.97 L467.24,85.95 L468.14,85.93 L469.04,85.90 L469.93,85.88 L470.83,85.85 L471.72,85.83 L472.62,85.81 L473.52,85.78 L474.41,85.76 L475.31,85.74 L476.20,85.72 L477.10,85.69 L478.00,85.67 L478.89,85.65 L479.79,85.63 L480.68,85.61 L481.58,85.58 L482.47,85.56 L483.37,85.54 L484.27,85.52 L485.16,85.50 L486.06,85.48 L486.95,85.46 L487.85,85.44 L488.75,85.42 L489.64,85.40 L490.54,85.38 L491.43,85.36 L492.33,85.34 L493.23,85.32 L494.12,85.30 L495.02,85.29 L495.91,85.27 L496.81,85.25 L497.70,85.23 L498.60,85.21 L499.50,85.19 L500.39,85.18 L501.29,85.16 L502.18,85.14 L503.08,85.12 L503.98,85.11 L504.87,85.09 L505.77,85.07 L506.66,85.06 L507.56,85.04 L508.45,85.02 L509.35,85.01 L510.25,84.99 L511.14,84.97 L512.04,84.96 L512.93,84.94 L513.83,84.93 L514.73,84.91 L515.62,84.89 L516.52,84.88 L517.41,84.86 L518.31,84.85 L519.21,84.83 L520.10,84.82 L521.00,84.81 L521.89,84.79 L522.79,84.78 L523.68,84.76 L524.58,84.75 L525.48,84.73 L526.37,84.72 L527.27,84.71 L528.16,84.69 L529.06,84.68 L529.96,84.67 L530.85,84.65 L531.75,84.64 L532.64,84.63 L533.54,84.61 L534.44,84.60 L535.33,84.59 L536.23,84.57 L537.12,84.56 L538.02,84.55 L538.91,84.54 L539.81,84.53 L540.71,84.51 L541.60,84.50 L542.50,84.49 L543.39,84.48 L544.29,84.47 L545.19,84.45 L546.08,84.44 L546.98,84.43 L547.87,84.42 L548.77,84.41 L549.66,84.40 L550.56,84.39 L551.46,84.38 L552.35,84.37 L553.25,84.35 L554.14,84.34 L555.04,84.33 L555.94,84.32 L556.83,84.31 L557.73,84.30 L558.62,84.29 L559.52,84.28 L560.42,84.27 L561.31,84.26 L562.21,84.25 L563.10,84.24 L564.00,84.23 L564.89,84.22 L565.79,84.21 L566.69,84.20 L567.58,84.20 L568.48,84.19 L569.37,84.18 L570.27,84.17 L571.17,84.16 L572.06,84.15 L572.96,84.14 L573.85,84.13 L574.75,84.12 L575.65,84.11 L576.54,84.11 L577.44,84.10 L578.33,84.09 L579.23,84.08 L580.12,84.07 L581.02,84.06 L581.92,84.06 L582.81,84.05 L583.71,84.04 L584.60,84.03 L585.50,84.02 L586.40,84.02 L587.29,84.01 L588.19,84.00 L589.08,83.99 L589.98,83.99 L590.87,83.98 L591.77,83.97 L592.67,83.96 L593.56,83.96 L594.46,83.95 L595.35,83.94 L596.25,83.94 L597.15,83.93 L598.04,83.92 L598.94,83.91 L599.83,83.91 L600.73,83.90 L601.63,83.89 L602.52,83.89 L603.42,83.88 L604.31,83.87 L605.21,83.87 L606.10,83.86 L607.00,83.85 L607.90,83.85 L608.79,83.84 L609.69,83.84 L610.58,83.83 L611.48,83.82" fill="none" stroke="#f2232a" stroke-width="2.5" stroke-dasharray="12.00 10.90" stroke-dashoffset="16.58"/>
<path d="M82.64,456.24 L83.60,437.47 L84.55,419.86 L85.51,403.34 L86.47,387.84 L87.42,373.30 L88.38,359.65 L89.34,346.84 L90.29,334.80 L91.25,323.50 L92.21,312.88 L93.16,302.89 L94.12,293.50 L95.07,284.68 L96.03,276.37 L96.99,268.55 L97.94,261.19 L98.90,254.26 L99.86,247.72 L100.81,241.56 L101.77,235.76 L102.72,230.28 L103.68,225.10 L104.64,220.21 L105.59,215.60 L106.55,211.23 L107.51,207.10 L108.46,203.19 L109.42,199.49 L110.37,195.98 L111.33,192.65 L112.29,189.49 L113.24,186.49 L114.20,183.64 L115.16,180.93 L116.11,178.36 L117.07,175.90 L118.03,173.56 L118.98,171.33 L119.94,169.20 L120.89,167.17 L121.85,165.22 L122.81,163.36 L123.76,161.58 L124.72,159.88 L125.68,158.24 L126.63,156.67 L127.59,155.16 L128.54,153.71 L129.50,152.32 L130.46,150.97 L131.41,149.68 L132.37,148.43 L133.33,147.22 L134.28,146.05 L135.24,144.93 L136.20,143.84 L137.15,142.78 L138.11,141.75 L139.06,140.76 L140.02,139.80 L140.98,138.86 L141.93,137.95 L142.89,137.06 L143.85,136.20 L144.80,135.36 L145.76,134.54 L146.71,133.74 L147.67,132.96 L148.63,132.19 L149.58,131.45 L150.54,130.72 L151.50,130.01 L152.45,129.31 L153.41,128.63 L154.37,127.96 L155.32,127.30 L156.28,126.66 L157.23,126.02 L158.19,125.40 L159.15,124.79 L160.10,124.20 L161.06,123.61 L162.02,123.03 L162.97,122.46 L163.93,121.90 L164.88,121.35 L165.84,120.81 L166.80,120.27 L167.75,119.75 L168.71,119.23 L169.67,118.72 L170.62,118.21 L171.58,117.72 L172.53,117.23 L173.49,116.75 L174.45,116.27 L175.40,115.80 L176.36,115.33 L177.32,114.88 L178.27,114.42 L179.23,113.98 L180.19,113.54 L181.14,113.10 L182.10,112.67 L183.05,112.25 L184.01,111.83 L184.97,111.41 L185.92,111.00 L186.88,110.60 L187.84,110.20 L188.79,109.80 L189.75,109.41 L190.70,109.02 L191.66,108.64 L192.62,108.26 L193.57,107.89 L194.53,107.52 L195.49,107.15 L196.44,106.79 L197.40,106.43 L198.36,106.08 L199.31,105.73 L200.27,105.38 L201.22,105.04 L202.18,104.70 L203.14,104.37 L204.09,104.03 L205.05,103.71 L206.01,103.38 L206.96,103.06 L207.92,102.74 L208.87,102.43 L209.83,102.12 L210.79,101.81 L211.74,101.50 L212.70,101.20 L213.66,100.90 L214.61,100.61 L215.57,100.31 L216.53,100.02 L217.48,99.74 L218.44,99.45 L219.39,99.17 L220.35,98.89 L221.31,98.62 L222.26,98.35 L223.22,98.08 L224.18,97.81 L225.13,97.55 L226.09,97.29 L227.04,97.03 L228.00,96.77 L228.96,96.52 L229.91,96.27 L230.87,96.02 L231.83,95.77 L232.78,95.53 L233.74,95.29 L234.69,95.05 L235.65,94.82 L236.61,94.58 L237.56,94.35 L238.52,94.12 L239.48,93.89 L240.43,93.67 L241.39,93.45 L242.35,93.23 L243.30,93.01 L244.26,92.80 L245.21,92.58 L246.17,92.37 L247.13,92.16 L248.08,91.96 L249.04,91.75 L250.00,91.55 L250.95,91.35 L251.91,91.15 L252.86,90.95 L253.82,90.76 L254.78,90.56 L255.73,90.37 L256.69,90.18 L257.65,90.00 L258.60,89.81 L259.56,89.63 L260.52,89.45 L261.47,89.27 L262.43,89.09 L263.38,88.91 L264.34,88.74 L265.30,88.57 L266.25,88.40 L267.21,88.23 L268.17,88.06 L269.12,87.89 L270.08,87.73 L271.03,87.57 L271.99,87.41 L272.95,87.25 L273.90,87.09 L274.86,86.93 L275.82,86.78 L276.77,86.63 L277.73,86.48 L278.69,86.33 L279.64,86.18 L280.60,86.03 L281.55,85.89 L282.51,85.74 L283.47,85.60 L284.42,85.46 L285.38,85.32 L286.34,85.18 L287.29,85.04 L288.25,84.91 L289.20,84.77 L290.16,84.64 L291.12,84.51 L292.07,84.38 L293.03,84.25 L293.99,84.12 L294.94,84.00 L295.90,83.87 L296.85,83.75 L297.81,83.63 L298.77,83.50 L299.72,83.38 L300.68,83.27 L301.64,83.15 L302.59,83.03 L303.55,82.92 L304.51,82.80 L305.46,82.69 L306.42,82.58 L307.37,82.47 L308.33,82.36 L309.29,82.25 L310.24,82.14 L311.20,82.03 L312.16,81.93 L313.11,81.83 L314.07,81.72 L315.02,81.62 L315.98,81.52 L316.94,81.42 L317.89,81.32 L318.85,81.22 L319.81,81.12 L320.76,81.03 L321.72,80.93 L322.68,80.84 L323.63,80.74 L324.59,80.65 L325.54,80.56 L326.50,80.47 L327.46,80.38 L328.41,80.29 L329.37,80.20 L330.33,80.12 L331.28,80.03 L332.24,79.95 L333.19,79.86 L334.15,79.78 L335.11,79.69 L336.06,79.61 L337.02,79.53 L337.98,79.45 L338.93,79.37 L339.89,79.29 L340.85,79.22 L341.80,79.14 L342.76,79.06 L343.71,78.99 L344.67,78.91 L345.63,78.84 L346.58,78.76 L347.54,78.69 L348.50,78.62 L349.45,78.55 L350.41,78.48 L351.36,78.41 L352.32,78.34 L353.28,78.27 L354.23,78.20 L355.19,78.14 L356.15,78.07 L357.10,78.00 L358.06,77.94 L359.01,77.88 L359.97,77.81 L360.93,77.75 L361.88,77.69 L362.84,77.62 L363.80,77.56 L364.75,77.50 L365.71,77.44 L366.67,77.38 L367.62,77.32 L368.58,77.27 L369.53,77.21 L370.49,77.15 L371.45,77.10 L372.40,77.04 L373.36,76.98 L374.32,76.93 L375.27,76.88 L376.23,76.82 L377.18,76.77 L378.14,76.72 L379.10,76.66 L380.05,76.61 L381.01,76.56 L381.97,76.51 L382.92,76.46 L383.88,76.41 L384.84,76.36 L385.79,76.31 L386.75,76.27 L387.70,76.22 L388.66,76.17 L389.62,76.12 L390.57,76.08 L391.53,76.03 L392.49,75.99 L393.44,75.94 L394.40,75.90 L395.35,75.85 L396.31,75.81 L397.27,75.77 L398.22,75.73 L399.18,75.68 L400.14,75.64 L401.09,75.60 L402.05,75.56 L403.00,75.52 L403.96,75.48 L404.92,75.44 L405.87,75.40 L406.83,75.36 L407.79,75.32 L408.74,75.28 L409.70,75.25 L410.66,75.21 L411.61,75.17 L412.57,75.14 L413.52,75.10 L414.48,75.06 L415.44,75.03 L416.39,74.99 L417.35,74.96 L418.31,74.92 L419.26,74.89 L420.22,74.86 L421.17,74.82 L422.13,74.79 L423.09,74.76 L424.04,74.72 L425.00,74.69 L425.96,74.66 L426.91,74.63 L427.87,74.60 L428.83,74.57 L429.78,74.54 L430.74,74.51 L431.69,74.48 L432.65,74.45 L433.61,74.42 L434.56,74.39 L435.52,74.36 L436.48,74.33 L437.43,74.30 L438.39,74.27 L439.34,74.25 L440.30,74.22 L441.26,74.19 L442.21,74.17 L443.17,74.14 L444.13,74.11 L445.08,74.09 L446.04,74.06 L447.00,74.04 L447.95,74.01 L448.91,73.99 L449.86,73.96 L450.82,73.94 L451.78,73.91 L452.73,73.89 L453.69,73.86 L454.65,73.84 L455.60,73.82 L456.56,73.79 L457.51,73.77 L458.47,73.75 L459.43,73.73 L460.38,73.70 L461.34,73.68 L462.30,73.66 L463.25,73.64 L464.21,73.62 L465.16,73.60 L466.12,73.58 L467.08,73.56 L468.03,73.54 L468.99,73.51 L469.95,73.49 L470.90,73.48 L471.86,73.46 L472.82,73.44 L473.77,73.42 L474.73,73.40 L475.68,73.38 L476.64,73.36 L477.60,73.34 L478.55,73.32 L479.51,73.31 L480.47,73.29 L481.42,73.27 L482.38,73.25 L483.33,73.23 L484.29,73.22 L485.25,73.20 L486.20,73.18 L487.16,73.17 L488.12,73.15 L489.07,73.13 L490.03,73.12 L490.99,73.10 L491.94,73.09 L492.90,73.07 L493.85,73.05 L494.81,73.04 L495.77,73.02 L496.72,73.01 L497.68,72.99 L498.64,72.98 L499.59,72.96 L500.55,72.95 L501.50,72.94 L502.46,72.92 L503.42,72.91 L504.37,72.89 L505.33,72.88 L506.29,72.87 L507.24,72.85 L508.20,72.84 L509.16,72.83 L510.11,72.81 L511.07,72.80 L512.02,72.79 L512.98,72.77 L513.94,72.76 L514.89,72.75 L515.85,72.74 L516.81,72.72 L517.76,72.71 L518.72,72.70 L519.67,72.69 L520.63,72.68 L521.59,72.67 L522.54,72.65 L523.50,72.64 L524.46,72.63 L525.41,72.62 L526.37,72.61 L527.32,72.60 L528.28,72.59 L529.24,72.58 L530.19,72.57 L531.15,72.56 L532.11,72.54 L533.06,72.53 L534.02,72.52 L534.98,72.51 L535.93,72.50 L536.89,72.49 L537.84,72.48 L538.80,72.47 L539.76,72.47 L540.71,72.46 L541.67,72.45 L542.63,72.44 L543.58,72.43 L544.54,72.42 L545.49,72.41 L546.45,72.40 L547.41,72.39 L548.36,72.38 L549.32,72.37 L550.28,72.37 L551.23,72.36 L552.19,72.35 L553.15,72.34 L554.10,72.33 L555.06,72.32 L556.01,72.32 L556.97,72.31 L557.93,72.30 L558.88,72.29 L559.84,72.28 L560.80,72.28 L561.75,72.27 L562.71,72.26 L563.66,72.25 L564.62,72.25 L565.58,72.24 L566.53,72.23 L567.49,72.22 L568.45,72.22 L569.40,72.21 L570.36,72.20 L571.32,72.20 L572.27,72.19 L573.23,72.18 L574.18,72.18 L575.14,72.17 L576.10,72.16 L577.05,72.16 L578.01,72.15 L578.97,72.14 L579.92,72.14 L580.88,72.13 L581.83,72.13 L582.79,72.12 L583.75,72.11 L584.70,72.11 L585.66,72.10 L586.62,72.10 L587.57,72.09 L588.53,72.08 L589.48,72.08 L590.44,72.07 L591.40,72.07 L592.35,72.06 L593.31,72.06 L594.27,72.05 L595.22,72.05 L596.18,72.04 L597.14,72.03 L598.09,72.03 L599.05,72.02 L600.00,72.02 L600.96,72.01 L601.92,72.01 L602.87,72.00 L603.83,72.00 L604.79,71.99 L605.74,71.99 L606.70,71.99 L607.65,71.98 L608.61,71.98 L609.57,71.97 L610.52,71.97 L611.48,71.96" fill="none" stroke="#0d0d0d" stroke-width="2.5"/>
<g style="mix-blend-mode:multiply">
<path d="M76.4,189.7 L76.4,481.7" fill="none" stroke="#f2232a" stroke-width="2.4" stroke-dasharray="12 11"/>
<path d="M76.3,481.7 L167,481.7" fill="none" stroke="#f2232a" stroke-width="2.4" stroke-dasharray="11.6 11.3"/>
<path d="M167.8,481.7 L172.6,475.4 L172.6,189.7" fill="none" stroke="#f2232a" stroke-width="2.1" stroke-dasharray="12.1 10.75" stroke-dashoffset="3.8"/>
<path d="M172.6,189.7 L76.5,189.7" fill="none" stroke="#f2232a" stroke-width="2.1" stroke-dasharray="12.1 10.75" stroke-dashoffset="21.85" opacity="0.85"/>
</g>
<rect x="76.7" y="11.7" width="594.2" height="477.9" fill="none" stroke="#111" stroke-width="2.15"/>
<line x1="195.5" y1="489.6" x2="195.5" y2="479.8" stroke="#111" stroke-width="2.1"/>
<line x1="314.4" y1="489.6" x2="314.4" y2="479.8" stroke="#111" stroke-width="2.1"/>
<line x1="433.2" y1="489.6" x2="433.2" y2="479.8" stroke="#111" stroke-width="2.1"/>
<line x1="552.1" y1="489.6" x2="552.1" y2="479.8" stroke="#111" stroke-width="2.1"/>
<line x1="76.7" y1="409.9" x2="86.5" y2="409.9" stroke="#111" stroke-width="2.1"/>
<line x1="76.7" y1="330.2" x2="86.5" y2="330.2" stroke="#111" stroke-width="2.1"/>
<line x1="76.7" y1="250.6" x2="86.5" y2="250.6" stroke="#111" stroke-width="2.1"/>
<line x1="76.7" y1="171.0" x2="86.5" y2="171.0" stroke="#111" stroke-width="2.1"/>
<line x1="76.7" y1="91.3" x2="86.5" y2="91.3" stroke="#111" stroke-width="2.1"/>
<text x="76.7" y="517" font-size="20" text-anchor="middle">0</text>
<text x="195.5" y="517" font-size="20" text-anchor="middle">20</text>
<text x="314.4" y="517" font-size="20" text-anchor="middle">40</text>
<text x="433.2" y="517" font-size="20" text-anchor="middle">60</text>
<text x="552.1" y="517" font-size="20" text-anchor="middle">80</text>
<text x="670.9" y="517" font-size="20" text-anchor="middle">100</text>
<text x="65.8" y="497.7" font-size="20" text-anchor="end" xml:space="preserve">0. 5</text>
<text x="65.8" y="418.1" font-size="20" text-anchor="end" xml:space="preserve">1. 0</text>
<text x="65.8" y="338.4" font-size="20" text-anchor="end" xml:space="preserve">1. 5</text>
<text x="65.8" y="258.8" font-size="20" text-anchor="end" xml:space="preserve">2. 0</text>
<text x="65.8" y="179.2" font-size="20" text-anchor="end" xml:space="preserve">2. 5</text>
<text x="65.8" y="99.5" font-size="20" text-anchor="end" xml:space="preserve">3. 0</text>
<text x="65.8" y="19.9" font-size="20" text-anchor="end" xml:space="preserve">3. 5</text>
<text y="550.3" font-size="22.5" class="b"><tspan x="220.8">Dry</tspan><tspan x="265.7">shrinkage</tspan><tspan x="367.3">age</tspan><tspan x="412.3" font-weight="normal" font-size="24.3">(d)</tspan></text>
<g transform="translate(28.3,344.3) rotate(-90)"><text x="0" y="0" font-size="29" class="b" word-spacing="0" xml:space="preserve">Water loss rate</text><text x="196" y="0" font-size="25" textLength="34.5" lengthAdjust="spacingAndGlyphs">(%)</text></g>
<rect x="98.8" y="20.0" width="9.0" height="9.0" fill="#0d0d0d"/>
<text x="118.5" y="29.5" font-size="15.8" class="b">RG-1</text>
<circle cx="193.5" cy="24.5" r="5.5" fill="#f2272c"/>
<text x="210.5" y="29.5" font-size="15.8" class="b">RG-2</text>
<path d="M283.2,17.0 L290.3,28.5 L276.1,28.5 Z" fill="#0b1cb8"/>
<text x="299.8" y="29.5" font-size="15.8" class="b">RG-3</text>
<path d="M366.0,21.2 L379.6,21.2 L372.8,32.2 Z" fill="#0d3a1d"/>
<text x="388.9" y="29.5" font-size="15.8" class="b">RG-4</text>
<path d="M463.0,17.6 L469.6,24.8 L463.0,32.0 L456.4,24.8 Z" fill="#8a4ad8"/>
<text x="476.5" y="29.5" font-size="15.8" class="b">RG-5</text>
<line x1="82.3" y1="47.2" x2="126" y2="47.2" stroke="#0d0d0d" stroke-width="2.2"/>
<text x="125.6" y="51.7" font-size="14.4" class="b" textLength="116" lengthAdjust="spacingAndGlyphs">RG-1 Fitting curve</text>
<line x1="244.6" y1="47.2" x2="279.1" y2="47.2" stroke="#f2232a" stroke-width="2.3" stroke-dasharray="12 10.8"/>
<text x="283.6" y="51.7" font-size="14.4" class="b" textLength="116" lengthAdjust="spacingAndGlyphs">RG-2 Fitting curve</text>
<rect x="407.3" y="45.9" width="3" height="2.6" fill="#1016b6"/>
<rect x="421.3" y="45.9" width="3" height="2.6" fill="#1016b6"/>
<rect x="435.5" y="45.9" width="3" height="2.6" fill="#1016b6"/>
<text x="441.8" y="51.7" font-size="14.4" class="b" textLength="116" lengthAdjust="spacingAndGlyphs">RG-3 Fitting curve</text>
<line x1="82.3" y1="68.9" x2="126" y2="68.9" stroke="#0e3a1c" stroke-width="2.2" stroke-dasharray="12.6 6.6 3 6.9 15 10"/>
<text x="126.8" y="73.7" font-size="14.4" class="b" textLength="116.5" lengthAdjust="spacingAndGlyphs">RG-4 Fitting curve</text>
<line x1="244.6" y1="68.9" x2="287.7" y2="68.9" stroke="#4a1fc4" stroke-width="2.3" stroke-dasharray="10.8 6 3 5.6 3 5.2"/>
<text x="294" y="73.7" font-size="14.4" class="b" textLength="116.5" lengthAdjust="spacingAndGlyphs">RG-5 Fitting curve</text>
<line x1="185" y1="317.3" x2="228" y2="307.7" stroke="#111" stroke-width="1.3"/>
<path d="M237.5,305.6 L224.3,304.6 L226,312 Z" fill="#111"/>
<rect x="279.2" y="191.5" width="365.5" height="226.5" fill="#fff" stroke="#1c1c1c" stroke-width="1.7"/>
<g clip-path="url(#ci)">
<path d="M301.8,411.2 L304.7,401.5 L307.6,392.2 L310.5,383.4 L313.4,375.0 L316.3,367.1 L319.2,359.5 L322.1,352.3 L325.0,345.4 L327.9,338.9 L330.8,332.6 L333.7,326.7 L336.6,321.1 L339.5,315.7 L342.4,310.6 L345.2,305.7 L348.1,301.0 L351.0,296.6 L353.9,292.4 L356.8,288.3 L359.7,284.5 L362.6,280.8 L365.5,277.3 L368.4,273.9 L371.3,270.7 L374.2,267.7 L377.1,264.8 L380.0,262.0 L382.9,259.3 L385.8,256.8 L388.6,254.3 L391.5,252.0 L394.4,249.7 L397.3,247.6 L400.2,245.6 L403.1,243.6 L406.0,241.7 L408.9,239.9 L411.8,238.2 L414.7,236.5 L417.6,234.9 L420.5,233.4 L423.4,231.9 L426.3,230.5 L429.1,229.1 L432.0,227.8 L434.9,226.5 L437.8,225.3 L440.7,224.2 L443.6,223.0 L446.5,221.9 L449.4,220.9 L452.3,219.9 L455.2,218.9 L458.1,217.9 L461.0,217.0 L463.9,216.1 L466.8,215.3 L469.7,214.4 L472.5,213.6 L475.4,212.9 L478.3,212.1 L481.2,211.4 L484.1,210.7 L487.0,210.0 L489.9,209.3 L492.8,208.6 L495.7,208.0 L498.6,207.4 L501.5,206.8 L504.4,206.2 L507.3,205.6 L510.2,205.1 L513.0,204.5 L515.9,204.0 L518.8,203.5 L521.7,203.0 L524.6,202.5 L527.5,202.0 L530.4,201.5 L533.3,201.0 L536.2,200.6 L539.1,200.1 L542.0,199.7 L544.9,199.3 L547.8,198.8 L550.7,198.4 L553.6,198.0 L556.4,197.6 L559.3,197.2 L562.2,196.9 L565.1,196.5 L568.0,196.1 L570.9,195.7 L573.8,195.4 L576.7,195.0 L579.6,194.7 L582.5,194.3 L585.4,194.0 L588.3,193.7 L591.2,193.3 L594.1,193.0 L596.9,192.7 L599.8,192.4 L602.7,192.1 L605.6,191.7 L608.5,191.4 L611.4,191.1 L614.3,190.8 L617.2,190.6 L620.1,190.3 L623.0,190.0 L625.9,189.7 L628.8,189.4 L631.7,189.1 L634.6,188.9 L637.5,188.6 L640.3,188.3 L643.2,188.1 L646.1,187.8" fill="none" stroke="#4a1fc4" stroke-width="1.7" stroke-dasharray="4.6 1.7 1.4 1.7 1.4 1.7"/>
<path d="M301.8,404.9 L304.7,394.9 L307.6,385.5 L310.5,376.5 L313.4,367.9 L316.3,359.8 L319.2,352.1 L322.1,344.7 L325.0,337.7 L327.9,331.1 L330.8,324.8 L333.7,318.7 L336.6,313.0 L339.5,307.6 L342.4,302.4 L345.2,297.4 L348.1,292.7 L351.0,288.2 L353.9,283.9 L356.8,279.9 L359.7,276.0 L362.6,272.3 L365.5,268.7 L368.4,265.4 L371.3,262.1 L374.2,259.1 L377.1,256.1 L380.0,253.3 L382.9,250.6 L385.8,248.0 L388.6,245.6 L391.5,243.2 L394.4,241.0 L397.3,238.8 L400.2,236.8 L403.1,234.8 L406.0,232.9 L408.9,231.1 L411.8,229.3 L414.7,227.7 L417.6,226.1 L420.5,224.5 L423.4,223.0 L426.3,221.6 L429.1,220.2 L432.0,218.9 L434.9,217.6 L437.8,216.4 L440.7,215.2 L443.6,214.1 L446.5,213.0 L449.4,211.9 L452.3,210.9 L455.2,209.9 L458.1,208.9 L461.0,208.0 L463.9,207.1 L466.8,206.2 L469.7,205.4 L472.5,204.6 L475.4,203.8 L478.3,203.0 L481.2,202.2 L484.1,201.5 L487.0,200.8 L489.9,200.1 L492.8,199.4 L495.7,198.8 L498.6,198.2 L501.5,197.5 L504.4,196.9 L507.3,196.3 L510.2,195.8 L513.0,195.2 L515.9,194.7 L518.8,194.1 L521.7,193.6 L524.6,193.1 L527.5,192.6 L530.4,192.1 L533.3,191.6 L536.2,191.1 L539.1,190.7 L542.0,190.2 L544.9,189.8 L547.8,189.3 L550.7,188.9 L553.6,188.5 L556.4,188.0 L559.3,187.6 L562.2,187.2 L565.1,186.8 L568.0,186.4 L570.9,186.1 L573.8,185.7 L576.7,185.3 L579.6,184.9 L582.5,184.6 L585.4,184.2 L588.3,183.9 L591.2,183.5 L594.1,183.2 L596.9,182.8 L599.8,182.5 L602.7,182.2 L605.6,181.8 L608.5,181.5 L611.4,181.2 L614.3,180.9 L617.2,180.6 L620.1,180.3 L623.0,180.0 L625.9,179.7 L628.8,179.4 L631.7,179.1 L634.6,178.8 L637.5,178.5 L640.3,178.2 L643.2,177.9 L646.1,177.7" fill="none" stroke="#0e3a1c" stroke-width="1.7" stroke-dasharray="5.2 1.7 1.5 1.7"/>
<path d="M301.8,402.9 L304.7,392.5 L307.6,382.6 L310.5,373.1 L313.4,364.1 L316.3,355.6 L319.2,347.5 L322.1,339.7 L325.0,332.3 L327.9,325.3 L330.8,318.6 L333.7,312.2 L336.6,306.1 L339.5,300.3 L342.4,294.7 L345.2,289.4 L348.1,284.4 L351.0,279.6 L353.9,275.0 L356.8,270.6 L359.7,266.4 L362.6,262.4 L365.5,258.6 L368.4,255.0 L371.3,251.5 L374.2,248.2 L377.1,245.0 L380.0,242.0 L382.9,239.1 L385.8,236.3 L388.6,233.6 L391.5,231.1 L394.4,228.6 L397.3,226.3 L400.2,224.1 L403.1,221.9 L406.0,219.9 L408.9,217.9 L411.8,216.0 L414.7,214.2 L417.6,212.5 L420.5,210.8 L423.4,209.2 L426.3,207.6 L429.1,206.2 L432.0,204.7 L434.9,203.4 L437.8,202.0 L440.7,200.8 L443.6,199.5 L446.5,198.4 L449.4,197.2 L452.3,196.1 L455.2,195.1 L458.1,194.0 L461.0,193.1 L463.9,192.1 L466.8,191.2 L469.7,190.3 L472.5,189.4 L475.4,188.6 L478.3,187.8 L481.2,187.0 L484.1,186.2 L487.0,185.5 L489.9,184.8 L492.8,184.1 L495.7,183.4 L498.6,182.7 L501.5,182.1 L504.4,181.5 L507.3,180.9 L510.2,180.3 L513.0,179.7 L515.9,179.1 L518.8,178.6 L521.7,178.0 L524.6,177.5 L527.5,177.0 L530.4,176.5 L533.3,176.0 L536.2,175.5 L539.1,175.1 L542.0,174.6 L544.9,174.2 L547.8,173.7 L550.7,173.3 L553.6,172.9 L556.4,172.5 L559.3,172.1 L562.2,171.7 L565.1,171.3 L568.0,170.9 L570.9,170.5 L573.8,170.2 L576.7,169.8 L579.6,169.4 L582.5,169.1 L585.4,168.7 L588.3,168.4 L591.2,168.1 L594.1,167.7 L596.9,167.4 L599.8,167.1 L602.7,166.8 L605.6,166.4 L608.5,166.1 L611.4,165.8 L614.3,165.5 L617.2,165.2 L620.1,164.9 L623.0,164.7 L625.9,164.4 L628.8,164.1 L631.7,163.8 L634.6,163.5 L637.5,163.3 L640.3,163.0 L643.2,162.7 L646.1,162.5" fill="none" stroke="#1016b6" stroke-width="2.0" stroke-dasharray="2 4.3"/>
<path d="M301.8,401.9 L304.7,390.8 L307.6,380.3 L310.5,370.3 L313.4,360.8 L316.3,351.8 L319.2,343.1 L322.1,334.9 L325.0,327.1 L327.9,319.7 L330.8,312.6 L333.7,305.8 L336.6,299.4 L339.5,293.2 L342.4,287.4 L345.2,281.8 L348.1,276.5 L351.0,271.4 L353.9,266.6 L356.8,261.9 L359.7,257.5 L362.6,253.3 L365.5,249.3 L368.4,245.5 L371.3,241.8 L374.2,238.3 L377.1,235.0 L380.0,231.8 L382.9,228.7 L385.8,225.8 L388.6,223.0 L391.5,220.3 L394.4,217.7 L397.3,215.2 L400.2,212.9 L403.1,210.6 L406.0,208.5 L408.9,206.4 L411.8,204.4 L414.7,202.5 L417.6,200.6 L420.5,198.9 L423.4,197.2 L426.3,195.5 L429.1,194.0 L432.0,192.5 L434.9,191.0 L437.8,189.6 L440.7,188.3 L443.6,187.0 L446.5,185.7 L449.4,184.5 L452.3,183.3 L455.2,182.2 L458.1,181.1 L461.0,180.1 L463.9,179.0 L466.8,178.1 L469.7,177.1 L472.5,176.2 L475.4,175.3 L478.3,174.4 L481.2,173.6 L484.1,172.7 L487.0,172.0 L489.9,171.2 L492.8,170.4 L495.7,169.7 L498.6,169.0 L501.5,168.3 L504.4,167.6 L507.3,167.0 L510.2,166.3 L513.0,165.7 L515.9,165.1 L518.8,164.5 L521.7,163.9 L524.6,163.3 L527.5,162.8 L530.4,162.2 L533.3,161.7 L536.2,161.2 L539.1,160.7 L542.0,160.2 L544.9,159.7 L547.8,159.2 L550.7,158.7 L553.6,158.3 L556.4,157.8 L559.3,157.4 L562.2,156.9 L565.1,156.5 L568.0,156.1 L570.9,155.7 L573.8,155.3 L576.7,154.8 L579.6,154.5 L582.5,154.1 L585.4,153.7 L588.3,153.3 L591.2,152.9 L594.1,152.5 L596.9,152.2 L599.8,151.8 L602.7,151.5 L605.6,151.1 L608.5,150.8 L611.4,150.4 L614.3,150.1 L617.2,149.8 L620.1,149.4 L623.0,149.1 L625.9,148.8 L628.8,148.5 L631.7,148.2 L634.6,147.8 L637.5,147.5 L640.3,147.2 L643.2,146.9 L646.1,146.6" fill="none" stroke="#f2232a" stroke-width="1.7" stroke-dasharray="4.6 3.4"/>
<path d="M301.8,398.6 L304.7,387.0 L307.6,375.9 L310.5,365.4 L313.4,355.4 L316.3,345.9 L319.2,336.8 L322.1,328.2 L325.0,320.0 L327.9,312.3 L330.8,304.9 L333.7,297.8 L336.6,291.1 L339.5,284.7 L342.4,278.7 L345.2,272.9 L348.1,267.4 L351.0,262.1 L353.9,257.1 L356.8,252.3 L359.7,247.8 L362.6,243.5 L365.5,239.3 L368.4,235.4 L371.3,231.6 L374.2,228.0 L377.1,224.6 L380.0,221.3 L382.9,218.2 L385.8,215.2 L388.6,212.3 L391.5,209.6 L394.4,207.0 L397.3,204.5 L400.2,202.1 L403.1,199.8 L406.0,197.6 L408.9,195.5 L411.8,193.4 L414.7,191.5 L417.6,189.6 L420.5,187.8 L423.4,186.1 L426.3,184.5 L429.1,182.9 L432.0,181.3 L434.9,179.9 L437.8,178.5 L440.7,177.1 L443.6,175.8 L446.5,174.5 L449.4,173.3 L452.3,172.1 L455.2,171.0 L458.1,169.9 L461.0,168.8 L463.9,167.8 L466.8,166.8 L469.7,165.8 L472.5,164.9 L475.4,164.0 L478.3,163.1 L481.2,162.3 L484.1,161.4 L487.0,160.6 L489.9,159.9 L492.8,159.1 L495.7,158.4 L498.6,157.7 L501.5,157.0 L504.4,156.3 L507.3,155.6 L510.2,155.0 L513.0,154.3 L515.9,153.7 L518.8,153.1 L521.7,152.5 L524.6,152.0 L527.5,151.4 L530.4,150.8 L533.3,150.3 L536.2,149.8 L539.1,149.3 L542.0,148.8 L544.9,148.3 L547.8,147.8 L550.7,147.3 L553.6,146.8 L556.4,146.4 L559.3,145.9 L562.2,145.5 L565.1,145.0 L568.0,144.6 L570.9,144.2 L573.8,143.8 L576.7,143.4 L579.6,143.0 L582.5,142.6 L585.4,142.2 L588.3,141.8 L591.2,141.4 L594.1,141.0 L596.9,140.7 L599.8,140.3 L602.7,139.9 L605.6,139.6 L608.5,139.2 L611.4,138.9 L614.3,138.5 L617.2,138.2 L620.1,137.9 L623.0,137.6 L625.9,137.2 L628.8,136.9 L631.7,136.6 L634.6,136.3 L637.5,136.0 L640.3,135.7 L643.2,135.4 L646.1,135.1" fill="none" stroke="#0d0d0d" stroke-width="1.9"/>
<rect x="299.2" y="393.9" width="5.3" height="5.3" fill="#0d0d0d"/>
<rect x="321.9" y="321.6" width="5.3" height="5.3" fill="#0d0d0d"/>
<rect x="344.5" y="269.0" width="5.3" height="5.3" fill="#0d0d0d"/>
<rect x="367.2" y="232.3" width="5.3" height="5.3" fill="#0d0d0d"/>
<rect x="389.8" y="204.0" width="5.3" height="5.3" fill="#0d0d0d"/>
<rect x="412.5" y="183.6" width="5.3" height="5.3" fill="#0d0d0d"/>
<rect x="435.1" y="171.7" width="5.3" height="5.3" fill="#0d0d0d"/>
<rect x="480.4" y="161.6" width="5.3" height="5.3" fill="#0d0d0d"/>
<rect x="525.7" y="151.3" width="5.3" height="5.3" fill="#0d0d0d"/>
<rect x="571.0" y="144.1" width="5.3" height="5.3" fill="#0d0d0d"/>
<rect x="616.3" y="137.2" width="5.3" height="5.3" fill="#0d0d0d"/>
<circle cx="301.8" cy="399.7" r="3.1" fill="#f2272c"/>
<circle cx="324.5" cy="331.3" r="3.1" fill="#f2272c"/>
<circle cx="347.1" cy="280.6" r="3.1" fill="#f2272c"/>
<circle cx="369.8" cy="245.2" r="3.1" fill="#f2272c"/>
<circle cx="392.4" cy="217.6" r="3.1" fill="#f2272c"/>
<circle cx="415.1" cy="197.4" r="3.1" fill="#f2272c"/>
<circle cx="437.8" cy="185.5" r="3.1" fill="#f2272c"/>
<circle cx="483.0" cy="175.0" r="3.1" fill="#f2272c"/>
<circle cx="528.3" cy="165.8" r="3.1" fill="#f2272c"/>
<circle cx="573.6" cy="157.9" r="3.1" fill="#f2272c"/>
<circle cx="619.0" cy="151.7" r="3.1" fill="#f2272c"/>
<path d="M301.8,397.1 L305.8,403.4 L297.9,403.4 Z" fill="#0b1cb8"/>
<path d="M324.5,332.1 L328.4,338.5 L320.6,338.5 Z" fill="#0b1cb8"/>
<path d="M347.1,284.5 L351.1,290.8 L343.2,290.8 Z" fill="#0b1cb8"/>
<path d="M369.8,250.6 L373.7,256.9 L365.9,256.9 Z" fill="#0b1cb8"/>
<path d="M392.4,224.1 L396.4,230.4 L388.5,230.4 Z" fill="#0b1cb8"/>
<path d="M415.1,206.9 L419.0,213.2 L411.2,213.2 Z" fill="#0b1cb8"/>
<path d="M437.8,194.4 L441.7,200.7 L433.8,200.7 Z" fill="#0b1cb8"/>
<path d="M483.0,184.4 L487.0,190.7 L479.1,190.7 Z" fill="#0b1cb8"/>
<path d="M528.3,175.4 L532.3,181.7 L524.4,181.7 Z" fill="#0b1cb8"/>
<path d="M573.6,169.2 L577.6,175.5 L569.7,175.5 Z" fill="#0b1cb8"/>
<path d="M619.0,163.2 L622.9,169.6 L615.0,169.6 Z" fill="#0b1cb8"/>
<path d="M297.9,401.0 L305.8,401.0 L301.8,407.3 Z" fill="#0d3a1d"/>
<path d="M320.6,338.1 L328.4,338.1 L324.5,344.4 Z" fill="#0d3a1d"/>
<path d="M343.2,293.9 L351.1,293.9 L347.1,300.2 Z" fill="#0d3a1d"/>
<path d="M365.9,262.7 L373.7,262.7 L369.8,269.1 Z" fill="#0d3a1d"/>
<path d="M388.5,238.0 L396.4,238.0 L392.4,244.3 Z" fill="#0d3a1d"/>
<path d="M411.2,221.8 L419.0,221.8 L415.1,228.1 Z" fill="#0d3a1d"/>
<path d="M433.8,210.1 L441.7,210.1 L437.8,216.5 Z" fill="#0d3a1d"/>
<path d="M479.1,201.0 L487.0,201.0 L483.0,207.3 Z" fill="#0d3a1d"/>
<path d="M524.4,193.1 L532.3,193.1 L528.3,199.4 Z" fill="#0d3a1d"/>
<path d="M569.7,185.8 L577.6,185.8 L573.6,192.1 Z" fill="#0d3a1d"/>
<path d="M615.0,178.8 L622.9,178.8 L619.0,185.2 Z" fill="#0d3a1d"/>
<path d="M301.8,405.7 L305.5,409.6 L301.8,413.6 L298.2,409.6 Z" fill="#5c2ec6"/>
<path d="M324.5,344.5 L328.1,348.5 L324.5,352.5 L320.9,348.5 Z" fill="#5c2ec6"/>
<path d="M347.1,300.4 L350.8,304.3 L347.1,308.3 L343.5,304.3 Z" fill="#5c2ec6"/>
<path d="M369.8,270.5 L373.4,274.5 L369.8,278.4 L366.2,274.5 Z" fill="#5c2ec6"/>
<path d="M392.4,244.9 L396.1,248.9 L392.4,252.8 L388.8,248.9 Z" fill="#5c2ec6"/>
<path d="M415.1,228.7 L418.7,232.7 L415.1,236.6 L411.5,232.7 Z" fill="#5c2ec6"/>
<path d="M437.8,217.9 L441.4,221.9 L437.8,225.9 L434.1,221.9 Z" fill="#5c2ec6"/>
<path d="M483.0,209.0 L486.7,213.0 L483.0,216.9 L479.4,213.0 Z" fill="#5c2ec6"/>
<path d="M528.3,200.0 L532.0,204.0 L528.3,207.9 L524.7,204.0 Z" fill="#5c2ec6"/>
<path d="M573.6,193.8 L577.3,197.8 L573.6,201.7 L570.0,197.8 Z" fill="#5c2ec6"/>
<path d="M619.0,188.1 L622.6,192.1 L619.0,196.0 L615.3,192.1 Z" fill="#5c2ec6"/>
</g>
<line x1="324.5" y1="418" x2="324.5" y2="413.2" stroke="#1c1c1c" stroke-width="1.5"/>
<line x1="369.8" y1="418" x2="369.8" y2="413.2" stroke="#1c1c1c" stroke-width="1.5"/>
<line x1="415.1" y1="418" x2="415.1" y2="413.2" stroke="#1c1c1c" stroke-width="1.5"/>
<line x1="460.4" y1="418" x2="460.4" y2="413.2" stroke="#1c1c1c" stroke-width="1.5"/>
<line x1="505.7" y1="418" x2="505.7" y2="413.2" stroke="#1c1c1c" stroke-width="1.5"/>
<line x1="551.0" y1="418" x2="551.0" y2="413.2" stroke="#1c1c1c" stroke-width="1.5"/>
<line x1="596.3" y1="418" x2="596.3" y2="413.2" stroke="#1c1c1c" stroke-width="1.5"/>
<line x1="641.6" y1="418" x2="641.6" y2="413.2" stroke="#1c1c1c" stroke-width="1.5"/>
<line x1="279.2" y1="412.1" x2="284.3" y2="412.1" stroke="#1c1c1c" stroke-width="1.5"/>
<line x1="279.2" y1="387.4" x2="284.3" y2="387.4" stroke="#1c1c1c" stroke-width="1.5"/>
<line x1="279.2" y1="362.6" x2="284.3" y2="362.6" stroke="#1c1c1c" stroke-width="1.5"/>
<line x1="279.2" y1="337.9" x2="284.3" y2="337.9" stroke="#1c1c1c" stroke-width="1.5"/>
<line x1="279.2" y1="313.1" x2="284.3" y2="313.1" stroke="#1c1c1c" stroke-width="1.5"/>
<line x1="279.2" y1="288.4" x2="284.3" y2="288.4" stroke="#1c1c1c" stroke-width="1.5"/>
<line x1="279.2" y1="263.6" x2="284.3" y2="263.6" stroke="#1c1c1c" stroke-width="1.5"/>
<line x1="279.2" y1="238.9" x2="284.3" y2="238.9" stroke="#1c1c1c" stroke-width="1.5"/>
<line x1="279.2" y1="214.1" x2="284.3" y2="214.1" stroke="#1c1c1c" stroke-width="1.5"/>
<text x="279.2" y="431.8" font-size="10" class="b" text-anchor="middle">0</text>
<text x="324.5" y="431.8" font-size="10" class="b" text-anchor="middle">2</text>
<text x="369.8" y="431.8" font-size="10" class="b" text-anchor="middle">4</text>
<text x="415.1" y="431.8" font-size="10" class="b" text-anchor="middle">6</text>
<text x="460.4" y="431.8" font-size="10" class="b" text-anchor="middle">8</text>
<text x="505.7" y="431.8" font-size="10" class="b" text-anchor="middle">10</text>
<text x="551.0" y="431.8" font-size="10" class="b" text-anchor="middle">12</text>
<text x="596.3" y="431.8" font-size="10" class="b" text-anchor="middle">14</text>
<text x="641.6" y="431.8" font-size="10" class="b" text-anchor="middle">16</text>
<text x="274.3" y="416.8" font-size="10" class="b" text-anchor="end" letter-spacing="0.8">0.6</text>
<text x="274.3" y="392.1" font-size="10" class="b" text-anchor="end" letter-spacing="0.8">0.8</text>
<text x="274.3" y="367.3" font-size="10" class="b" text-anchor="end" letter-spacing="0.8">1.0</text>
<text x="274.3" y="342.6" font-size="10" class="b" text-anchor="end" letter-spacing="0.8">1.2</text>
<text x="274.3" y="317.8" font-size="10" class="b" text-anchor="end" letter-spacing="0.8">1.4</text>
<text x="274.3" y="293.1" font-size="10" class="b" text-anchor="end" letter-spacing="0.8">1.6</text>
<text x="274.3" y="268.3" font-size="10" class="b" text-anchor="end" letter-spacing="0.8">1.8</text>
<text x="274.3" y="243.6" font-size="10" class="b" text-anchor="end" letter-spacing="0.8">2.0</text>
<text x="274.3" y="218.8" font-size="10" class="b" text-anchor="end" letter-spacing="0.8">2.2</text>
<text x="381.7" y="449" font-size="12.3" class="b" xml:space="preserve">Dry shrinkage age<tspan dx="1.5">(d)</tspan></text>
<text transform="translate(253.8,335.5) rotate(-90)" font-size="12" class="b" xml:space="preserve">Water loss rate <tspan font-size="11.5">(%)</tspan></text>
</g></svg></body></html>
